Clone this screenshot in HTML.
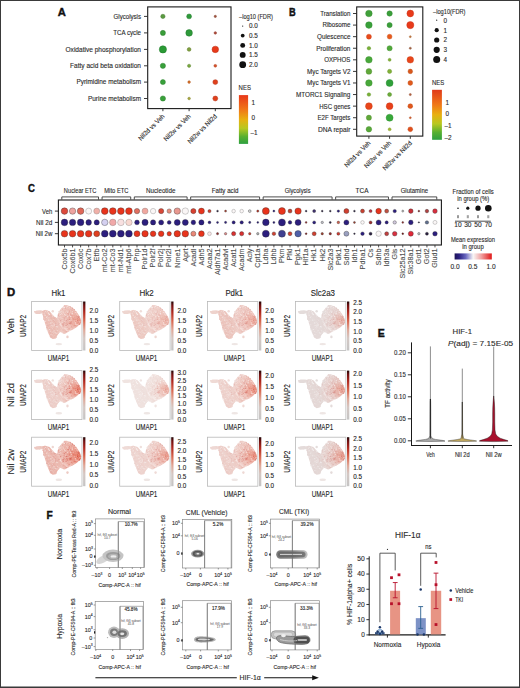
<!DOCTYPE html>
<html><head><meta charset="utf-8"><style>
html,body{margin:0;padding:0;background:#fff;}
body{width:520px;height:688px;overflow:hidden;}
svg{display:block;font-family:"Liberation Sans", sans-serif;}
text{stroke-width:0.12px;}
text[font-weight=bold]{stroke:#111;stroke-width:0.4px;}
</style></head><body>
<svg width="520" height="688" viewBox="0 0 520 688">
<rect x="0.50" y="0.50" width="519.00" height="687.00" fill="none" stroke="#3a3a3a" stroke-width="1"/>
<line x1="0.00" y1="687.20" x2="520.00" y2="687.20" stroke="#3a3a3a" stroke-width="1.2"/>
<text x="57.70" y="15.90" font-size="10.6" text-anchor="start" fill="#111" font-weight="bold" textLength="8.1" lengthAdjust="spacingAndGlyphs">A</text>
<text x="141.00" y="18.78" font-size="6.6" text-anchor="end" fill="#2b2b2b" font-weight="normal" stroke="#2b2b2b" textLength="27.4" lengthAdjust="spacingAndGlyphs">Glycolysis</text>
<line x1="144.00" y1="16.40" x2="147.50" y2="16.40" stroke="#222" stroke-width="0.9"/>
<text x="141.00" y="35.28" font-size="6.6" text-anchor="end" fill="#2b2b2b" font-weight="normal" stroke="#2b2b2b" textLength="27.8" lengthAdjust="spacingAndGlyphs">TCA cycle</text>
<line x1="144.00" y1="32.90" x2="147.50" y2="32.90" stroke="#222" stroke-width="0.9"/>
<text x="141.00" y="51.78" font-size="6.6" text-anchor="end" fill="#2b2b2b" font-weight="normal" stroke="#2b2b2b" textLength="75.5" lengthAdjust="spacingAndGlyphs">Oxidative phosphorylation</text>
<line x1="144.00" y1="49.40" x2="147.50" y2="49.40" stroke="#222" stroke-width="0.9"/>
<text x="141.00" y="68.18" font-size="6.6" text-anchor="end" fill="#2b2b2b" font-weight="normal" stroke="#2b2b2b" textLength="71.0" lengthAdjust="spacingAndGlyphs">Fatty acid beta oxidation</text>
<line x1="144.00" y1="65.80" x2="147.50" y2="65.80" stroke="#222" stroke-width="0.9"/>
<text x="141.00" y="84.48" font-size="6.6" text-anchor="end" fill="#2b2b2b" font-weight="normal" stroke="#2b2b2b" textLength="64.6" lengthAdjust="spacingAndGlyphs">Pyrimidine metabolism</text>
<line x1="144.00" y1="82.10" x2="147.50" y2="82.10" stroke="#222" stroke-width="0.9"/>
<text x="141.00" y="100.88" font-size="6.6" text-anchor="end" fill="#2b2b2b" font-weight="normal" stroke="#2b2b2b" textLength="53.0" lengthAdjust="spacingAndGlyphs">Purine metabolism</text>
<line x1="144.00" y1="98.50" x2="147.50" y2="98.50" stroke="#222" stroke-width="0.9"/>
<rect x="147.70" y="6.90" width="83.30" height="101.70" fill="none" stroke="#1a1a1a" stroke-width="1.1"/>
<circle cx="162.90" cy="16.40" r="2.15" fill="#5a9a40" stroke="#487b33" stroke-width="0.5"/>
<circle cx="189.10" cy="16.40" r="2.45" fill="#2e9a3a" stroke="#247b2e" stroke-width="0.5"/>
<circle cx="215.30" cy="16.40" r="1.15" fill="#a0503a" stroke="#80402e" stroke-width="0.5"/>
<circle cx="162.90" cy="32.90" r="2.55" fill="#3a9e3a" stroke="#2e7e2e" stroke-width="0.5"/>
<circle cx="189.10" cy="32.90" r="3.30" fill="#2e9a3a" stroke="#247b2e" stroke-width="0.5"/>
<circle cx="215.30" cy="32.90" r="1.25" fill="#b04a3a" stroke="#8c3b2e" stroke-width="0.5"/>
<circle cx="162.90" cy="49.40" r="3.60" fill="#2a9a35" stroke="#217b2a" stroke-width="0.5"/>
<circle cx="189.10" cy="49.40" r="1.85" fill="#80a040" stroke="#668033" stroke-width="0.5"/>
<circle cx="215.30" cy="49.40" r="3.25" fill="#e83a1a" stroke="#b92e14" stroke-width="0.5"/>
<circle cx="162.90" cy="65.80" r="2.60" fill="#38a03a" stroke="#2c802e" stroke-width="0.5"/>
<circle cx="189.10" cy="65.80" r="1.60" fill="#78a840" stroke="#608633" stroke-width="0.5"/>
<circle cx="215.30" cy="65.80" r="1.40" fill="#d85028" stroke="#ac4020" stroke-width="0.5"/>
<circle cx="162.90" cy="82.10" r="2.50" fill="#38a03a" stroke="#2c802e" stroke-width="0.5"/>
<circle cx="189.10" cy="82.10" r="1.30" fill="#d87028" stroke="#ac5920" stroke-width="0.5"/>
<circle cx="215.30" cy="82.10" r="2.45" fill="#e0401c" stroke="#b33316" stroke-width="0.5"/>
<circle cx="162.90" cy="98.50" r="2.60" fill="#38a03a" stroke="#2c802e" stroke-width="0.5"/>
<circle cx="189.10" cy="98.50" r="1.30" fill="#a8a840" stroke="#868633" stroke-width="0.5"/>
<circle cx="215.30" cy="98.50" r="2.45" fill="#e0401c" stroke="#b33316" stroke-width="0.5"/>
<line x1="162.90" y1="108.60" x2="162.90" y2="111.20" stroke="#222" stroke-width="0.9"/>
<line x1="189.10" y1="108.60" x2="189.10" y2="111.20" stroke="#222" stroke-width="0.9"/>
<line x1="215.30" y1="108.60" x2="215.30" y2="111.20" stroke="#222" stroke-width="0.9"/>
<text x="165.00" y="116.8" font-size="6.6" text-anchor="end" fill="#2b2b2b" textLength="34.1" lengthAdjust="spacingAndGlyphs" transform="rotate(-45 165.00 116.8)" stroke="#2b2b2b">Nil2d vs Veh</text>
<text x="191.20" y="116.8" font-size="6.6" text-anchor="end" fill="#2b2b2b" textLength="35.1" lengthAdjust="spacingAndGlyphs" transform="rotate(-45 191.20 116.8)" stroke="#2b2b2b">Nil2w vs Veh</text>
<text x="217.40" y="116.8" font-size="6.6" text-anchor="end" fill="#2b2b2b" textLength="38.5" lengthAdjust="spacingAndGlyphs" transform="rotate(-45 217.40 116.8)" stroke="#2b2b2b">Nil2w vs Nil2d</text>
<text x="239.00" y="18.80" font-size="6.4" text-anchor="start" fill="#2b2b2b" font-weight="normal" stroke="#2b2b2b" textLength="33.9" lengthAdjust="spacingAndGlyphs">–log10 (FDR)</text>
<circle cx="242.70" cy="26.10" r="0.60" fill="#111"/>
<text x="249.00" y="28.40" font-size="6.4" text-anchor="start" fill="#2b2b2b" font-weight="normal" stroke="#2b2b2b">0.0</text>
<circle cx="242.70" cy="35.60" r="1.90" fill="#111"/>
<text x="249.00" y="37.90" font-size="6.4" text-anchor="start" fill="#2b2b2b" font-weight="normal" stroke="#2b2b2b">0.5</text>
<circle cx="242.70" cy="45.40" r="2.45" fill="#111"/>
<text x="249.00" y="47.70" font-size="6.4" text-anchor="start" fill="#2b2b2b" font-weight="normal" stroke="#2b2b2b">1.0</text>
<circle cx="242.70" cy="54.90" r="2.95" fill="#111"/>
<text x="249.00" y="57.20" font-size="6.4" text-anchor="start" fill="#2b2b2b" font-weight="normal" stroke="#2b2b2b">1.5</text>
<circle cx="242.70" cy="64.70" r="3.40" fill="#111"/>
<text x="249.00" y="67.00" font-size="6.4" text-anchor="start" fill="#2b2b2b" font-weight="normal" stroke="#2b2b2b">2.0</text>
<text x="238.60" y="89.90" font-size="6.4" text-anchor="start" fill="#2b2b2b" font-weight="normal" stroke="#2b2b2b" textLength="12.3" lengthAdjust="spacingAndGlyphs">NES</text>
<defs><linearGradient id="nesA" x1="0" y1="0" x2="0" y2="1">
<stop offset="0" stop-color="#e8381a"/><stop offset="0.3" stop-color="#f07818"/>
<stop offset="0.5" stop-color="#e8b010"/><stop offset="0.68" stop-color="#b8c820"/>
<stop offset="0.85" stop-color="#58b030"/><stop offset="1" stop-color="#2ea040"/></linearGradient>
<linearGradient id="nesB" x1="0" y1="0" x2="0" y2="1">
<stop offset="0" stop-color="#e03a1a"/><stop offset="0.3" stop-color="#f07818"/>
<stop offset="0.5" stop-color="#e8b010"/><stop offset="0.68" stop-color="#b8c820"/>
<stop offset="0.85" stop-color="#58b030"/><stop offset="1" stop-color="#2ea040"/></linearGradient></defs>
<rect x="238.90" y="95.10" width="9.20" height="48.80" fill="url(#nesA)"/>
<text x="251.40" y="104.70" font-size="6.4" text-anchor="start" fill="#2b2b2b" font-weight="normal" stroke="#2b2b2b">1</text>
<text x="251.40" y="119.90" font-size="6.4" text-anchor="start" fill="#2b2b2b" font-weight="normal" stroke="#2b2b2b">0</text>
<text x="250.40" y="135.00" font-size="6.4" text-anchor="start" fill="#2b2b2b" font-weight="normal" stroke="#2b2b2b">–1</text>
<text x="288.90" y="16.30" font-size="10.2" text-anchor="start" fill="#111" font-weight="bold" textLength="6.7" lengthAdjust="spacingAndGlyphs">B</text>
<text x="350.40" y="15.88" font-size="6.6" text-anchor="end" fill="#2b2b2b" font-weight="normal" stroke="#2b2b2b" textLength="30.2" lengthAdjust="spacingAndGlyphs">Translation</text>
<line x1="353.00" y1="13.50" x2="356.60" y2="13.50" stroke="#222" stroke-width="0.9"/>
<text x="350.40" y="27.46" font-size="6.6" text-anchor="end" fill="#2b2b2b" font-weight="normal" stroke="#2b2b2b" textLength="28.0" lengthAdjust="spacingAndGlyphs">Ribosome</text>
<line x1="353.00" y1="25.08" x2="356.60" y2="25.08" stroke="#222" stroke-width="0.9"/>
<text x="350.40" y="39.04" font-size="6.6" text-anchor="end" fill="#2b2b2b" font-weight="normal" stroke="#2b2b2b" textLength="33.4" lengthAdjust="spacingAndGlyphs">Quiescence</text>
<line x1="353.00" y1="36.66" x2="356.60" y2="36.66" stroke="#222" stroke-width="0.9"/>
<text x="350.40" y="50.62" font-size="6.6" text-anchor="end" fill="#2b2b2b" font-weight="normal" stroke="#2b2b2b" textLength="34.25" lengthAdjust="spacingAndGlyphs">Proliferation</text>
<line x1="353.00" y1="48.24" x2="356.60" y2="48.24" stroke="#222" stroke-width="0.9"/>
<text x="350.40" y="62.20" font-size="6.6" text-anchor="end" fill="#2b2b2b" font-weight="normal" stroke="#2b2b2b" textLength="26.25" lengthAdjust="spacingAndGlyphs">OXPHOS</text>
<line x1="353.00" y1="59.82" x2="356.60" y2="59.82" stroke="#222" stroke-width="0.9"/>
<text x="350.40" y="73.78" font-size="6.6" text-anchor="end" fill="#2b2b2b" font-weight="normal" stroke="#2b2b2b" textLength="43.4" lengthAdjust="spacingAndGlyphs">Myc Targets V2</text>
<line x1="353.00" y1="71.40" x2="356.60" y2="71.40" stroke="#222" stroke-width="0.9"/>
<text x="350.40" y="85.36" font-size="6.6" text-anchor="end" fill="#2b2b2b" font-weight="normal" stroke="#2b2b2b" textLength="43.4" lengthAdjust="spacingAndGlyphs">Myc Targets V1</text>
<line x1="353.00" y1="82.98" x2="356.60" y2="82.98" stroke="#222" stroke-width="0.9"/>
<text x="350.40" y="96.94" font-size="6.6" text-anchor="end" fill="#2b2b2b" font-weight="normal" stroke="#2b2b2b" textLength="54.4" lengthAdjust="spacingAndGlyphs">MTORC1 Signaling</text>
<line x1="353.00" y1="94.56" x2="356.60" y2="94.56" stroke="#222" stroke-width="0.9"/>
<text x="350.40" y="108.52" font-size="6.6" text-anchor="end" fill="#2b2b2b" font-weight="normal" stroke="#2b2b2b" textLength="31.25" lengthAdjust="spacingAndGlyphs">HSC genes</text>
<line x1="353.00" y1="106.14" x2="356.60" y2="106.14" stroke="#222" stroke-width="0.9"/>
<text x="350.40" y="120.10" font-size="6.6" text-anchor="end" fill="#2b2b2b" font-weight="normal" stroke="#2b2b2b" textLength="33.0" lengthAdjust="spacingAndGlyphs">E2F Targets</text>
<line x1="353.00" y1="117.72" x2="356.60" y2="117.72" stroke="#222" stroke-width="0.9"/>
<text x="350.40" y="131.68" font-size="6.6" text-anchor="end" fill="#2b2b2b" font-weight="normal" stroke="#2b2b2b" textLength="32.5" lengthAdjust="spacingAndGlyphs">DNA repair</text>
<line x1="353.00" y1="129.30" x2="356.60" y2="129.30" stroke="#222" stroke-width="0.9"/>
<rect x="356.70" y="6.90" width="66.10" height="129.20" fill="none" stroke="#1a1a1a" stroke-width="1.1"/>
<circle cx="368.90" cy="13.50" r="3.30" fill="#40a03a" stroke="#368831" stroke-width="0.4"/>
<circle cx="389.60" cy="13.50" r="2.70" fill="#3a9e3a" stroke="#318631" stroke-width="0.4"/>
<circle cx="410.30" cy="13.50" r="3.40" fill="#e83a1a" stroke="#c53116" stroke-width="0.4"/>
<circle cx="368.90" cy="25.08" r="3.30" fill="#38a03a" stroke="#2f8831" stroke-width="0.4"/>
<circle cx="389.60" cy="25.08" r="2.60" fill="#3a9e3a" stroke="#318631" stroke-width="0.4"/>
<circle cx="410.30" cy="25.08" r="3.60" fill="#e83a1a" stroke="#c53116" stroke-width="0.4"/>
<circle cx="368.90" cy="36.66" r="2.50" fill="#e84a1a" stroke="#c53e16" stroke-width="0.4"/>
<circle cx="389.60" cy="36.66" r="2.40" fill="#e85a1a" stroke="#c54c16" stroke-width="0.4"/>
<circle cx="410.30" cy="36.66" r="1.00" fill="#c07840" stroke="#a36636" stroke-width="0.4"/>
<circle cx="368.90" cy="48.24" r="1.80" fill="#78b038" stroke="#66952f" stroke-width="0.4"/>
<circle cx="389.60" cy="48.24" r="2.60" fill="#50a83a" stroke="#448e31" stroke-width="0.4"/>
<circle cx="410.30" cy="48.24" r="1.10" fill="#a06040" stroke="#885136" stroke-width="0.4"/>
<circle cx="368.90" cy="59.82" r="3.30" fill="#48a83a" stroke="#3d8e31" stroke-width="0.4"/>
<circle cx="389.60" cy="59.82" r="1.50" fill="#80b038" stroke="#6c952f" stroke-width="0.4"/>
<circle cx="410.30" cy="59.82" r="3.30" fill="#e8461a" stroke="#c53b16" stroke-width="0.4"/>
<circle cx="368.90" cy="71.40" r="2.90" fill="#60a83a" stroke="#518e31" stroke-width="0.4"/>
<circle cx="389.60" cy="71.40" r="2.10" fill="#80b038" stroke="#6c952f" stroke-width="0.4"/>
<circle cx="410.30" cy="71.40" r="2.30" fill="#d8581c" stroke="#b74a17" stroke-width="0.4"/>
<circle cx="368.90" cy="82.98" r="3.30" fill="#48a83a" stroke="#3d8e31" stroke-width="0.4"/>
<circle cx="389.60" cy="82.98" r="3.50" fill="#30a03a" stroke="#288831" stroke-width="0.4"/>
<circle cx="410.30" cy="82.98" r="2.40" fill="#e05a1c" stroke="#be4c17" stroke-width="0.4"/>
<circle cx="368.90" cy="94.56" r="1.80" fill="#78b038" stroke="#66952f" stroke-width="0.4"/>
<circle cx="389.60" cy="94.56" r="2.00" fill="#6aaa3a" stroke="#5a9031" stroke-width="0.4"/>
<circle cx="410.30" cy="94.56" r="1.10" fill="#b06040" stroke="#955136" stroke-width="0.4"/>
<circle cx="368.90" cy="106.14" r="3.40" fill="#e8461a" stroke="#c53b16" stroke-width="0.4"/>
<circle cx="389.60" cy="106.14" r="3.40" fill="#e8401a" stroke="#c53616" stroke-width="0.4"/>
<circle cx="410.30" cy="106.14" r="2.40" fill="#e0581c" stroke="#be4a17" stroke-width="0.4"/>
<circle cx="368.90" cy="117.72" r="2.60" fill="#60a83a" stroke="#518e31" stroke-width="0.4"/>
<circle cx="389.60" cy="117.72" r="3.50" fill="#38a83a" stroke="#2f8e31" stroke-width="0.4"/>
<circle cx="410.30" cy="117.72" r="1.00" fill="#d06030" stroke="#b05128" stroke-width="0.4"/>
<circle cx="368.90" cy="129.30" r="2.80" fill="#58a83a" stroke="#4a8e31" stroke-width="0.4"/>
<circle cx="389.60" cy="129.30" r="1.50" fill="#a0b838" stroke="#889c2f" stroke-width="0.4"/>
<circle cx="410.30" cy="129.30" r="2.40" fill="#e0501c" stroke="#be4417" stroke-width="0.4"/>
<line x1="368.90" y1="136.20" x2="368.90" y2="138.80" stroke="#222" stroke-width="0.9"/>
<line x1="389.60" y1="136.20" x2="389.60" y2="138.80" stroke="#222" stroke-width="0.9"/>
<line x1="410.30" y1="136.20" x2="410.30" y2="138.80" stroke="#222" stroke-width="0.9"/>
<text x="371.00" y="143.6" font-size="6.6" text-anchor="end" fill="#2b2b2b" textLength="34.1" lengthAdjust="spacingAndGlyphs" transform="rotate(-45 371.00 143.6)" stroke="#2b2b2b">Nil2d vs Veh</text>
<text x="391.70" y="143.6" font-size="6.6" text-anchor="end" fill="#2b2b2b" textLength="35.1" lengthAdjust="spacingAndGlyphs" transform="rotate(-45 391.70 143.6)" stroke="#2b2b2b">Nil2w vs Veh</text>
<text x="412.40" y="143.6" font-size="6.6" text-anchor="end" fill="#2b2b2b" textLength="38.5" lengthAdjust="spacingAndGlyphs" transform="rotate(-45 412.40 143.6)" stroke="#2b2b2b">Nil2w vs Nil2d</text>
<text x="433.00" y="13.80" font-size="6.4" text-anchor="start" fill="#2b2b2b" font-weight="normal" stroke="#2b2b2b" textLength="32.5" lengthAdjust="spacingAndGlyphs">–log10(FDR)</text>
<circle cx="436.70" cy="20.20" r="0.60" fill="#111"/>
<text x="443.50" y="22.50" font-size="6.4" text-anchor="start" fill="#2b2b2b" font-weight="normal" stroke="#2b2b2b">0</text>
<circle cx="436.70" cy="30.20" r="2.10" fill="#111"/>
<text x="443.50" y="32.50" font-size="6.4" text-anchor="start" fill="#2b2b2b" font-weight="normal" stroke="#2b2b2b">1</text>
<circle cx="436.70" cy="40.00" r="2.60" fill="#111"/>
<text x="443.50" y="42.30" font-size="6.4" text-anchor="start" fill="#2b2b2b" font-weight="normal" stroke="#2b2b2b">2</text>
<circle cx="436.70" cy="49.80" r="3.10" fill="#111"/>
<text x="443.50" y="52.10" font-size="6.4" text-anchor="start" fill="#2b2b2b" font-weight="normal" stroke="#2b2b2b">3</text>
<circle cx="436.70" cy="59.60" r="3.50" fill="#111"/>
<text x="443.50" y="61.90" font-size="6.4" text-anchor="start" fill="#2b2b2b" font-weight="normal" stroke="#2b2b2b">4</text>
<text x="432.00" y="85.30" font-size="6.4" text-anchor="start" fill="#2b2b2b" font-weight="normal" stroke="#2b2b2b" textLength="12.3" lengthAdjust="spacingAndGlyphs">NES</text>
<rect x="432.10" y="89.80" width="9.80" height="50.00" fill="url(#nesB)"/>
<text x="445.40" y="104.60" font-size="6.4" text-anchor="start" fill="#2b2b2b" font-weight="normal" stroke="#2b2b2b">1</text>
<text x="445.40" y="115.80" font-size="6.4" text-anchor="start" fill="#2b2b2b" font-weight="normal" stroke="#2b2b2b">0</text>
<text x="444.40" y="127.90" font-size="6.4" text-anchor="start" fill="#2b2b2b" font-weight="normal" stroke="#2b2b2b">–1</text>
<text x="444.40" y="139.90" font-size="6.4" text-anchor="start" fill="#2b2b2b" font-weight="normal" stroke="#2b2b2b">–2</text>
<text x="28.00" y="192.30" font-size="10.2" text-anchor="start" fill="#111" font-weight="bold" textLength="6.9" lengthAdjust="spacingAndGlyphs">C</text>
<text x="52.30" y="213.88" font-size="6.6" text-anchor="end" fill="#2b2b2b" font-weight="normal" stroke="#2b2b2b" textLength="10.2" lengthAdjust="spacingAndGlyphs">Veh</text>
<line x1="54.90" y1="211.10" x2="58.20" y2="211.10" stroke="#222" stroke-width="0.9"/>
<text x="52.30" y="225.18" font-size="6.6" text-anchor="end" fill="#2b2b2b" font-weight="normal" stroke="#2b2b2b" textLength="16.2" lengthAdjust="spacingAndGlyphs">Nil 2d</text>
<line x1="54.90" y1="222.40" x2="58.20" y2="222.40" stroke="#222" stroke-width="0.9"/>
<text x="52.30" y="236.48" font-size="6.6" text-anchor="end" fill="#2b2b2b" font-weight="normal" stroke="#2b2b2b" textLength="16.5" lengthAdjust="spacingAndGlyphs">Nil 2w</text>
<line x1="54.90" y1="233.70" x2="58.20" y2="233.70" stroke="#222" stroke-width="0.9"/>
<rect x="58.40" y="200.00" width="383.00" height="45.00" fill="none" stroke="#1a1a1a" stroke-width="1.1"/>
<circle cx="64.50" cy="211.10" r="3.30" fill="#dc4a3c" stroke="#2a2a2a" stroke-width="0.35"/>
<circle cx="64.50" cy="222.40" r="3.30" fill="#2c1e7e" stroke="#2a2a2a" stroke-width="0.35"/>
<circle cx="64.50" cy="233.70" r="3.30" fill="#e8341c" stroke="#2a2a2a" stroke-width="0.35"/>
<line x1="64.50" y1="245.10" x2="64.50" y2="247.40" stroke="#222" stroke-width="0.8"/>
<text x="66.80" y="248.6" font-size="7.2" text-anchor="end" fill="#505050" transform="rotate(-90 66.80 248.6)" stroke="#505050">Cox5b</text>
<circle cx="72.55" cy="211.10" r="3.20" fill="#eea4a0" stroke="#2a2a2a" stroke-width="0.35"/>
<circle cx="72.55" cy="222.40" r="3.20" fill="#2c1e7e" stroke="#2a2a2a" stroke-width="0.35"/>
<circle cx="72.55" cy="233.70" r="3.30" fill="#e8341c" stroke="#2a2a2a" stroke-width="0.35"/>
<line x1="72.55" y1="245.10" x2="72.55" y2="247.40" stroke="#222" stroke-width="0.8"/>
<text x="74.85" y="248.6" font-size="7.2" text-anchor="end" fill="#505050" transform="rotate(-90 74.85 248.6)" stroke="#505050">Cox6b1</text>
<circle cx="80.61" cy="211.10" r="3.30" fill="#e06858" stroke="#2a2a2a" stroke-width="0.35"/>
<circle cx="80.61" cy="222.40" r="3.30" fill="#2c1e7e" stroke="#2a2a2a" stroke-width="0.35"/>
<circle cx="80.61" cy="233.70" r="3.30" fill="#e8341c" stroke="#2a2a2a" stroke-width="0.35"/>
<line x1="80.61" y1="245.10" x2="80.61" y2="247.40" stroke="#222" stroke-width="0.8"/>
<text x="82.91" y="248.6" font-size="7.2" text-anchor="end" fill="#505050" transform="rotate(-90 82.91 248.6)" stroke="#505050">Cox6c</text>
<circle cx="88.66" cy="211.10" r="3.00" fill="#faf6f6" stroke="#777" stroke-width="0.35"/>
<circle cx="88.66" cy="222.40" r="2.80" fill="#2c1e7e" stroke="#2a2a2a" stroke-width="0.35"/>
<circle cx="88.66" cy="233.70" r="3.30" fill="#e8341c" stroke="#2a2a2a" stroke-width="0.35"/>
<line x1="88.66" y1="245.10" x2="88.66" y2="247.40" stroke="#222" stroke-width="0.8"/>
<text x="90.96" y="248.6" font-size="7.2" text-anchor="end" fill="#505050" transform="rotate(-90 90.96 248.6)" stroke="#505050">Cox7b</text>
<circle cx="96.72" cy="211.10" r="3.00" fill="#f0b0a8" stroke="#777" stroke-width="0.35"/>
<circle cx="96.72" cy="222.40" r="2.60" fill="#2c1e7e" stroke="#2a2a2a" stroke-width="0.35"/>
<circle cx="96.72" cy="233.70" r="3.00" fill="#e04020" stroke="#2a2a2a" stroke-width="0.35"/>
<line x1="96.72" y1="245.10" x2="96.72" y2="247.40" stroke="#222" stroke-width="0.8"/>
<text x="99.02" y="248.6" font-size="7.2" text-anchor="end" fill="#505050" transform="rotate(-90 99.02 248.6)" stroke="#505050">Etfb</text>
<circle cx="104.77" cy="211.10" r="3.40" fill="#e8341c" stroke="#2a2a2a" stroke-width="0.35"/>
<circle cx="104.77" cy="222.40" r="3.20" fill="#d4d0f0" stroke="#2a2a2a" stroke-width="0.35"/>
<circle cx="104.77" cy="233.70" r="3.40" fill="#2c1e7e" stroke="#2a2a2a" stroke-width="0.35"/>
<line x1="104.77" y1="245.10" x2="104.77" y2="247.40" stroke="#222" stroke-width="0.8"/>
<text x="107.07" y="248.6" font-size="7.2" text-anchor="end" fill="#505050" transform="rotate(-90 107.07 248.6)" stroke="#505050">mt-Co2</text>
<circle cx="112.82" cy="211.10" r="3.40" fill="#e8341c" stroke="#2a2a2a" stroke-width="0.35"/>
<circle cx="112.82" cy="222.40" r="3.30" fill="#f0a8a8" stroke="#777" stroke-width="0.35"/>
<circle cx="112.82" cy="233.70" r="3.40" fill="#2c1e7e" stroke="#2a2a2a" stroke-width="0.35"/>
<line x1="112.82" y1="245.10" x2="112.82" y2="247.40" stroke="#222" stroke-width="0.8"/>
<text x="115.12" y="248.6" font-size="7.2" text-anchor="end" fill="#505050" transform="rotate(-90 115.12 248.6)" stroke="#505050">mt-Co3</text>
<circle cx="120.88" cy="211.10" r="3.40" fill="#e8341c" stroke="#2a2a2a" stroke-width="0.35"/>
<circle cx="120.88" cy="222.40" r="3.30" fill="#f8e0e0" stroke="#777" stroke-width="0.35"/>
<circle cx="120.88" cy="233.70" r="3.40" fill="#2c1e7e" stroke="#2a2a2a" stroke-width="0.35"/>
<line x1="120.88" y1="245.10" x2="120.88" y2="247.40" stroke="#222" stroke-width="0.8"/>
<text x="123.18" y="248.6" font-size="7.2" text-anchor="end" fill="#505050" transform="rotate(-90 123.18 248.6)" stroke="#505050">mt-Nd1</text>
<circle cx="128.93" cy="211.10" r="3.40" fill="#e8341c" stroke="#2a2a2a" stroke-width="0.35"/>
<circle cx="128.93" cy="222.40" r="3.20" fill="#f8d8d0" stroke="#777" stroke-width="0.35"/>
<circle cx="128.93" cy="233.70" r="3.40" fill="#2c1e7e" stroke="#2a2a2a" stroke-width="0.35"/>
<line x1="128.93" y1="245.10" x2="128.93" y2="247.40" stroke="#222" stroke-width="0.8"/>
<text x="131.23" y="248.6" font-size="7.2" text-anchor="end" fill="#505050" transform="rotate(-90 131.23 248.6)" stroke="#505050">mt-Atp6</text>
<circle cx="136.99" cy="211.10" r="2.70" fill="#e07060" stroke="#2a2a2a" stroke-width="0.35"/>
<circle cx="136.99" cy="222.40" r="2.40" fill="#2c1e7e" stroke="#2a2a2a" stroke-width="0.35"/>
<circle cx="136.99" cy="233.70" r="3.00" fill="#e8341c" stroke="#2a2a2a" stroke-width="0.35"/>
<line x1="136.99" y1="245.10" x2="136.99" y2="247.40" stroke="#222" stroke-width="0.8"/>
<text x="139.29" y="248.6" font-size="7.2" text-anchor="end" fill="#505050" transform="rotate(-90 139.29 248.6)" stroke="#505050">Pnp</text>
<circle cx="145.04" cy="211.10" r="3.00" fill="#f0a8a0" stroke="#777" stroke-width="0.35"/>
<circle cx="145.04" cy="222.40" r="3.10" fill="#2c1e7e" stroke="#2a2a2a" stroke-width="0.35"/>
<circle cx="145.04" cy="233.70" r="3.20" fill="#e8341c" stroke="#2a2a2a" stroke-width="0.35"/>
<line x1="145.04" y1="245.10" x2="145.04" y2="247.40" stroke="#222" stroke-width="0.8"/>
<text x="147.34" y="248.6" font-size="7.2" text-anchor="end" fill="#505050" transform="rotate(-90 147.34 248.6)" stroke="#505050">Polr1d</text>
<circle cx="153.09" cy="211.10" r="2.70" fill="#faf6f6" stroke="#777" stroke-width="0.35"/>
<circle cx="153.09" cy="222.40" r="2.60" fill="#2c1e7e" stroke="#2a2a2a" stroke-width="0.35"/>
<circle cx="153.09" cy="233.70" r="2.80" fill="#e8341c" stroke="#2a2a2a" stroke-width="0.35"/>
<line x1="153.09" y1="245.10" x2="153.09" y2="247.40" stroke="#222" stroke-width="0.8"/>
<text x="155.39" y="248.6" font-size="7.2" text-anchor="end" fill="#505050" transform="rotate(-90 155.39 248.6)" stroke="#505050">Polr2f</text>
<circle cx="161.15" cy="211.10" r="2.60" fill="#d84838" stroke="#2a2a2a" stroke-width="0.35"/>
<circle cx="161.15" cy="222.40" r="2.50" fill="#2c1e7e" stroke="#2a2a2a" stroke-width="0.35"/>
<circle cx="161.15" cy="233.70" r="2.80" fill="#e8341c" stroke="#2a2a2a" stroke-width="0.35"/>
<line x1="161.15" y1="245.10" x2="161.15" y2="247.40" stroke="#222" stroke-width="0.8"/>
<text x="163.45" y="248.6" font-size="7.2" text-anchor="end" fill="#505050" transform="rotate(-90 163.45 248.6)" stroke="#505050">Polr2j</text>
<circle cx="169.20" cy="211.10" r="2.20" fill="#e89080" stroke="#2a2a2a" stroke-width="0.35"/>
<circle cx="169.20" cy="222.40" r="1.90" fill="#2c1e7e" stroke="#2a2a2a" stroke-width="0.35"/>
<circle cx="169.20" cy="233.70" r="2.20" fill="#e8341c" stroke="#2a2a2a" stroke-width="0.35"/>
<line x1="169.20" y1="245.10" x2="169.20" y2="247.40" stroke="#222" stroke-width="0.8"/>
<text x="171.50" y="248.6" font-size="7.2" text-anchor="end" fill="#505050" transform="rotate(-90 171.50 248.6)" stroke="#505050">Polr2l</text>
<circle cx="177.26" cy="211.10" r="3.20" fill="#e89890" stroke="#2a2a2a" stroke-width="0.35"/>
<circle cx="177.26" cy="222.40" r="3.00" fill="#2c1e7e" stroke="#2a2a2a" stroke-width="0.35"/>
<circle cx="177.26" cy="233.70" r="3.20" fill="#e8341c" stroke="#2a2a2a" stroke-width="0.35"/>
<line x1="177.26" y1="245.10" x2="177.26" y2="247.40" stroke="#222" stroke-width="0.8"/>
<text x="179.56" y="248.6" font-size="7.2" text-anchor="end" fill="#505050" transform="rotate(-90 179.56 248.6)" stroke="#505050">Nme1</text>
<circle cx="185.31" cy="211.10" r="3.20" fill="#faf6f6" stroke="#777" stroke-width="0.35"/>
<circle cx="185.31" cy="222.40" r="3.00" fill="#2c1e7e" stroke="#2a2a2a" stroke-width="0.35"/>
<circle cx="185.31" cy="233.70" r="3.30" fill="#e8341c" stroke="#2a2a2a" stroke-width="0.35"/>
<line x1="185.31" y1="245.10" x2="185.31" y2="247.40" stroke="#222" stroke-width="0.8"/>
<text x="187.61" y="248.6" font-size="7.2" text-anchor="end" fill="#505050" transform="rotate(-90 187.61 248.6)" stroke="#505050">Aprt</text>
<circle cx="193.36" cy="211.10" r="2.60" fill="#d84030" stroke="#2a2a2a" stroke-width="0.35"/>
<circle cx="193.36" cy="222.40" r="2.30" fill="#2c1e7e" stroke="#2a2a2a" stroke-width="0.35"/>
<circle cx="193.36" cy="233.70" r="2.50" fill="#e88878" stroke="#2a2a2a" stroke-width="0.35"/>
<line x1="193.36" y1="245.10" x2="193.36" y2="247.40" stroke="#222" stroke-width="0.8"/>
<text x="195.66" y="248.6" font-size="7.2" text-anchor="end" fill="#505050" transform="rotate(-90 195.66 248.6)" stroke="#505050">Acadl</text>
<circle cx="201.42" cy="211.10" r="3.00" fill="#e8341c" stroke="#2a2a2a" stroke-width="0.35"/>
<circle cx="201.42" cy="222.40" r="2.60" fill="#2c1e7e" stroke="#2a2a2a" stroke-width="0.35"/>
<circle cx="201.42" cy="233.70" r="2.90" fill="#e8341c" stroke="#2a2a2a" stroke-width="0.35"/>
<line x1="201.42" y1="245.10" x2="201.42" y2="247.40" stroke="#222" stroke-width="0.8"/>
<text x="203.72" y="248.6" font-size="7.2" text-anchor="end" fill="#505050" transform="rotate(-90 203.72 248.6)" stroke="#505050">Adh5</text>
<circle cx="209.47" cy="211.10" r="1.60" fill="#d04030" stroke="#2a2a2a" stroke-width="0.35"/>
<circle cx="209.47" cy="222.40" r="1.40" fill="#2c1e7e" stroke="#2a2a2a" stroke-width="0.35"/>
<circle cx="209.47" cy="233.70" r="1.90" fill="#f8e4e4" stroke="#777" stroke-width="0.35"/>
<line x1="209.47" y1="245.10" x2="209.47" y2="247.40" stroke="#222" stroke-width="0.8"/>
<text x="211.77" y="248.6" font-size="7.2" text-anchor="end" fill="#505050" transform="rotate(-90 211.77 248.6)" stroke="#505050">Acaa2</text>
<circle cx="217.53" cy="211.10" r="0.90" fill="#2a2040" stroke="#2a2a2a" stroke-width="0.35"/>
<circle cx="217.53" cy="222.40" r="1.00" fill="#2c1e7e" stroke="#2a2a2a" stroke-width="0.35"/>
<circle cx="217.53" cy="233.70" r="1.10" fill="#902828" stroke="#2a2a2a" stroke-width="0.35"/>
<line x1="217.53" y1="245.10" x2="217.53" y2="247.40" stroke="#222" stroke-width="0.8"/>
<text x="219.83" y="248.6" font-size="7.2" text-anchor="end" fill="#505050" transform="rotate(-90 219.83 248.6)" stroke="#505050">Aldh7a1</text>
<circle cx="225.58" cy="211.10" r="1.00" fill="#b04030" stroke="#2a2a2a" stroke-width="0.35"/>
<circle cx="225.58" cy="222.40" r="1.10" fill="#2c1e7e" stroke="#2a2a2a" stroke-width="0.35"/>
<circle cx="225.58" cy="233.70" r="1.20" fill="#e08888" stroke="#2a2a2a" stroke-width="0.35"/>
<line x1="225.58" y1="245.10" x2="225.58" y2="247.40" stroke="#222" stroke-width="0.8"/>
<text x="227.88" y="248.6" font-size="7.2" text-anchor="end" fill="#505050" transform="rotate(-90 227.88 248.6)" stroke="#505050">Acadvl</text>
<circle cx="233.63" cy="211.10" r="1.80" fill="#faf6f6" stroke="#777" stroke-width="0.35"/>
<circle cx="233.63" cy="222.40" r="1.60" fill="#2c1e7e" stroke="#2a2a2a" stroke-width="0.35"/>
<circle cx="233.63" cy="233.70" r="2.10" fill="#d83030" stroke="#2a2a2a" stroke-width="0.35"/>
<line x1="233.63" y1="245.10" x2="233.63" y2="247.40" stroke="#222" stroke-width="0.8"/>
<text x="235.93" y="248.6" font-size="7.2" text-anchor="end" fill="#505050" transform="rotate(-90 235.93 248.6)" stroke="#505050">Acat1</text>
<circle cx="241.69" cy="211.10" r="1.80" fill="#faf6f6" stroke="#777" stroke-width="0.35"/>
<circle cx="241.69" cy="222.40" r="1.70" fill="#2c1e7e" stroke="#2a2a2a" stroke-width="0.35"/>
<circle cx="241.69" cy="233.70" r="2.10" fill="#d83030" stroke="#2a2a2a" stroke-width="0.35"/>
<line x1="241.69" y1="245.10" x2="241.69" y2="247.40" stroke="#222" stroke-width="0.8"/>
<text x="243.99" y="248.6" font-size="7.2" text-anchor="end" fill="#505050" transform="rotate(-90 243.99 248.6)" stroke="#505050">Acadm</text>
<circle cx="249.74" cy="211.10" r="1.40" fill="#d0d0d0" stroke="#2a2a2a" stroke-width="0.35"/>
<circle cx="249.74" cy="222.40" r="1.10" fill="#2c1e7e" stroke="#2a2a2a" stroke-width="0.35"/>
<circle cx="249.74" cy="233.70" r="1.20" fill="#d04030" stroke="#2a2a2a" stroke-width="0.35"/>
<line x1="249.74" y1="245.10" x2="249.74" y2="247.40" stroke="#222" stroke-width="0.8"/>
<text x="252.04" y="248.6" font-size="7.2" text-anchor="end" fill="#505050" transform="rotate(-90 252.04 248.6)" stroke="#505050">Acly</text>
<circle cx="257.80" cy="211.10" r="1.10" fill="#c03020" stroke="#2a2a2a" stroke-width="0.35"/>
<circle cx="257.80" cy="222.40" r="0.90" fill="#2c1e7e" stroke="#2a2a2a" stroke-width="0.35"/>
<circle cx="257.80" cy="233.70" r="1.20" fill="#b0b0b0" stroke="#2a2a2a" stroke-width="0.35"/>
<line x1="257.80" y1="245.10" x2="257.80" y2="247.40" stroke="#222" stroke-width="0.8"/>
<text x="260.10" y="248.6" font-size="7.2" text-anchor="end" fill="#505050" transform="rotate(-90 260.10 248.6)" stroke="#505050">Cpt1a</text>
<circle cx="265.85" cy="211.10" r="3.50" fill="#e8341c" stroke="#2a2a2a" stroke-width="0.35"/>
<circle cx="265.85" cy="222.40" r="3.30" fill="#2c1e7e" stroke="#2a2a2a" stroke-width="0.35"/>
<circle cx="265.85" cy="233.70" r="3.50" fill="#2c1e7e" stroke="#2a2a2a" stroke-width="0.35"/>
<line x1="265.85" y1="245.10" x2="265.85" y2="247.40" stroke="#222" stroke-width="0.8"/>
<text x="268.15" y="248.6" font-size="7.2" text-anchor="end" fill="#505050" transform="rotate(-90 268.15 248.6)" stroke="#505050">Ldha</text>
<circle cx="273.90" cy="211.10" r="1.00" fill="#2c1e7e" stroke="#2a2a2a" stroke-width="0.35"/>
<circle cx="273.90" cy="222.40" r="1.00" fill="#2c1e7e" stroke="#2a2a2a" stroke-width="0.35"/>
<circle cx="273.90" cy="233.70" r="1.80" fill="#d04030" stroke="#2a2a2a" stroke-width="0.35"/>
<line x1="273.90" y1="245.10" x2="273.90" y2="247.40" stroke="#222" stroke-width="0.8"/>
<text x="276.20" y="248.6" font-size="7.2" text-anchor="end" fill="#505050" transform="rotate(-90 276.20 248.6)" stroke="#505050">Ldhb</text>
<circle cx="281.96" cy="211.10" r="3.50" fill="#e8341c" stroke="#2a2a2a" stroke-width="0.35"/>
<circle cx="281.96" cy="222.40" r="3.50" fill="#2c1e7e" stroke="#2a2a2a" stroke-width="0.35"/>
<circle cx="281.96" cy="233.70" r="3.50" fill="#404090" stroke="#2a2a2a" stroke-width="0.35"/>
<line x1="281.96" y1="245.10" x2="281.96" y2="247.40" stroke="#222" stroke-width="0.8"/>
<text x="284.26" y="248.6" font-size="7.2" text-anchor="end" fill="#505050" transform="rotate(-90 284.26 248.6)" stroke="#505050">Pkm</text>
<circle cx="290.01" cy="211.10" r="2.00" fill="#c04030" stroke="#2a2a2a" stroke-width="0.35"/>
<circle cx="290.01" cy="222.40" r="1.80" fill="#2c1e7e" stroke="#2a2a2a" stroke-width="0.35"/>
<circle cx="290.01" cy="233.70" r="2.00" fill="#d04030" stroke="#2a2a2a" stroke-width="0.35"/>
<line x1="290.01" y1="245.10" x2="290.01" y2="247.40" stroke="#222" stroke-width="0.8"/>
<text x="292.31" y="248.6" font-size="7.2" text-anchor="end" fill="#505050" transform="rotate(-90 292.31 248.6)" stroke="#505050">Pfkl</text>
<circle cx="298.07" cy="211.10" r="3.20" fill="#e8341c" stroke="#2a2a2a" stroke-width="0.35"/>
<circle cx="298.07" cy="222.40" r="3.00" fill="#2c1e7e" stroke="#2a2a2a" stroke-width="0.35"/>
<circle cx="298.07" cy="233.70" r="3.20" fill="#5060a8" stroke="#2a2a2a" stroke-width="0.35"/>
<line x1="298.07" y1="245.10" x2="298.07" y2="247.40" stroke="#222" stroke-width="0.8"/>
<text x="300.37" y="248.6" font-size="7.2" text-anchor="end" fill="#505050" transform="rotate(-90 300.37 248.6)" stroke="#505050">Pgk1</text>
<circle cx="306.12" cy="211.10" r="0.90" fill="#2a2040" stroke="#2a2a2a" stroke-width="0.35"/>
<circle cx="306.12" cy="222.40" r="0.90" fill="#a03030" stroke="#2a2a2a" stroke-width="0.35"/>
<circle cx="306.12" cy="233.70" r="0.90" fill="#902020" stroke="#2a2a2a" stroke-width="0.35"/>
<line x1="306.12" y1="245.10" x2="306.12" y2="247.40" stroke="#222" stroke-width="0.8"/>
<text x="308.42" y="248.6" font-size="7.2" text-anchor="end" fill="#505050" transform="rotate(-90 308.42 248.6)" stroke="#505050">Hif1a</text>
<circle cx="314.17" cy="211.10" r="1.50" fill="#403070" stroke="#2a2a2a" stroke-width="0.35"/>
<circle cx="314.17" cy="222.40" r="1.50" fill="#2c1e7e" stroke="#2a2a2a" stroke-width="0.35"/>
<circle cx="314.17" cy="233.70" r="2.00" fill="#d04030" stroke="#2a2a2a" stroke-width="0.35"/>
<line x1="314.17" y1="245.10" x2="314.17" y2="247.40" stroke="#222" stroke-width="0.8"/>
<text x="316.47" y="248.6" font-size="7.2" text-anchor="end" fill="#505050" transform="rotate(-90 316.47 248.6)" stroke="#505050">Hk1</text>
<circle cx="322.23" cy="211.10" r="0.90" fill="#2a2040" stroke="#2a2a2a" stroke-width="0.35"/>
<circle cx="322.23" cy="222.40" r="1.20" fill="#c0c0c8" stroke="#2a2a2a" stroke-width="0.35"/>
<circle cx="322.23" cy="233.70" r="1.20" fill="#a04030" stroke="#2a2a2a" stroke-width="0.35"/>
<line x1="322.23" y1="245.10" x2="322.23" y2="247.40" stroke="#222" stroke-width="0.8"/>
<text x="324.53" y="248.6" font-size="7.2" text-anchor="end" fill="#505050" transform="rotate(-90 324.53 248.6)" stroke="#505050">Hk2</text>
<circle cx="330.28" cy="211.10" r="0.90" fill="#2a2040" stroke="#2a2a2a" stroke-width="0.35"/>
<circle cx="330.28" cy="222.40" r="1.00" fill="#2a2040" stroke="#2a2a2a" stroke-width="0.35"/>
<circle cx="330.28" cy="233.70" r="1.20" fill="#902828" stroke="#2a2a2a" stroke-width="0.35"/>
<line x1="330.28" y1="245.10" x2="330.28" y2="247.40" stroke="#222" stroke-width="0.8"/>
<text x="332.58" y="248.6" font-size="7.2" text-anchor="end" fill="#505050" transform="rotate(-90 332.58 248.6)" stroke="#505050">Slc2a3</text>
<circle cx="338.34" cy="211.10" r="1.20" fill="#2c1e7e" stroke="#2a2a2a" stroke-width="0.35"/>
<circle cx="338.34" cy="222.40" r="1.30" fill="#d06050" stroke="#2a2a2a" stroke-width="0.35"/>
<circle cx="338.34" cy="233.70" r="1.50" fill="#d03a30" stroke="#2a2a2a" stroke-width="0.35"/>
<line x1="338.34" y1="245.10" x2="338.34" y2="247.40" stroke="#222" stroke-width="0.8"/>
<text x="340.64" y="248.6" font-size="7.2" text-anchor="end" fill="#505050" transform="rotate(-90 340.64 248.6)" stroke="#505050">Pdk1</text>
<circle cx="346.39" cy="211.10" r="2.50" fill="#d04030" stroke="#2a2a2a" stroke-width="0.35"/>
<circle cx="346.39" cy="222.40" r="2.50" fill="#2c1e7e" stroke="#2a2a2a" stroke-width="0.35"/>
<circle cx="346.39" cy="233.70" r="2.50" fill="#9aa0c0" stroke="#2a2a2a" stroke-width="0.35"/>
<line x1="346.39" y1="245.10" x2="346.39" y2="247.40" stroke="#222" stroke-width="0.8"/>
<text x="348.69" y="248.6" font-size="7.2" text-anchor="end" fill="#505050" transform="rotate(-90 348.69 248.6)" stroke="#505050">Sdhd</text>
<circle cx="354.44" cy="211.10" r="0.90" fill="#2a2040" stroke="#2a2a2a" stroke-width="0.35"/>
<circle cx="354.44" cy="222.40" r="1.00" fill="#a04030" stroke="#2a2a2a" stroke-width="0.35"/>
<circle cx="354.44" cy="233.70" r="0.80" fill="#2a2040" stroke="#2a2a2a" stroke-width="0.35"/>
<line x1="354.44" y1="245.10" x2="354.44" y2="247.40" stroke="#222" stroke-width="0.8"/>
<text x="356.74" y="248.6" font-size="7.2" text-anchor="end" fill="#505050" transform="rotate(-90 356.74 248.6)" stroke="#505050">Idh1</text>
<circle cx="362.50" cy="211.10" r="2.00" fill="#c84030" stroke="#2a2a2a" stroke-width="0.35"/>
<circle cx="362.50" cy="222.40" r="1.80" fill="#faf6f6" stroke="#777" stroke-width="0.35"/>
<circle cx="362.50" cy="233.70" r="1.80" fill="#2c1e7e" stroke="#2a2a2a" stroke-width="0.35"/>
<line x1="362.50" y1="245.10" x2="362.50" y2="247.40" stroke="#222" stroke-width="0.8"/>
<text x="364.80" y="248.6" font-size="7.2" text-anchor="end" fill="#505050" transform="rotate(-90 364.80 248.6)" stroke="#505050">Pdha1</text>
<circle cx="370.55" cy="211.10" r="1.50" fill="#c03040" stroke="#2a2a2a" stroke-width="0.35"/>
<circle cx="370.55" cy="222.40" r="1.50" fill="#a03030" stroke="#2a2a2a" stroke-width="0.35"/>
<circle cx="370.55" cy="233.70" r="1.50" fill="#2a2040" stroke="#2a2a2a" stroke-width="0.35"/>
<line x1="370.55" y1="245.10" x2="370.55" y2="247.40" stroke="#222" stroke-width="0.8"/>
<text x="372.85" y="248.6" font-size="7.2" text-anchor="end" fill="#505050" transform="rotate(-90 372.85 248.6)" stroke="#505050">Cs</text>
<circle cx="378.61" cy="211.10" r="2.80" fill="#e8341c" stroke="#2a2a2a" stroke-width="0.35"/>
<circle cx="378.61" cy="222.40" r="2.50" fill="#2c1e7e" stroke="#2a2a2a" stroke-width="0.35"/>
<circle cx="378.61" cy="233.70" r="2.70" fill="#faf6f6" stroke="#777" stroke-width="0.35"/>
<line x1="378.61" y1="245.10" x2="378.61" y2="247.40" stroke="#222" stroke-width="0.8"/>
<text x="380.91" y="248.6" font-size="7.2" text-anchor="end" fill="#505050" transform="rotate(-90 380.91 248.6)" stroke="#505050">Sdhb</text>
<circle cx="386.66" cy="211.10" r="2.00" fill="#c05040" stroke="#2a2a2a" stroke-width="0.35"/>
<circle cx="386.66" cy="222.40" r="1.60" fill="#2c1e7e" stroke="#2a2a2a" stroke-width="0.35"/>
<circle cx="386.66" cy="233.70" r="2.00" fill="#c04040" stroke="#2a2a2a" stroke-width="0.35"/>
<line x1="386.66" y1="245.10" x2="386.66" y2="247.40" stroke="#222" stroke-width="0.8"/>
<text x="388.96" y="248.6" font-size="7.2" text-anchor="end" fill="#505050" transform="rotate(-90 388.96 248.6)" stroke="#505050">Idh3a</text>
<circle cx="394.71" cy="211.10" r="1.70" fill="#2c1e7e" stroke="#2a2a2a" stroke-width="0.35"/>
<circle cx="394.71" cy="222.40" r="1.70" fill="#d0c8dc" stroke="#2a2a2a" stroke-width="0.35"/>
<circle cx="394.71" cy="233.70" r="2.30" fill="#d83040" stroke="#2a2a2a" stroke-width="0.35"/>
<line x1="394.71" y1="245.10" x2="394.71" y2="247.40" stroke="#222" stroke-width="0.8"/>
<text x="397.01" y="248.6" font-size="7.2" text-anchor="end" fill="#505050" transform="rotate(-90 397.01 248.6)" stroke="#505050">Gls</text>
<circle cx="402.77" cy="211.10" r="1.00" fill="#c0c0c0" stroke="#2a2a2a" stroke-width="0.35"/>
<circle cx="402.77" cy="222.40" r="0.90" fill="#a03030" stroke="#2a2a2a" stroke-width="0.35"/>
<circle cx="402.77" cy="233.70" r="0.90" fill="#801818" stroke="#2a2a2a" stroke-width="0.35"/>
<line x1="402.77" y1="245.10" x2="402.77" y2="247.40" stroke="#222" stroke-width="0.8"/>
<text x="405.07" y="248.6" font-size="7.2" text-anchor="end" fill="#505050" transform="rotate(-90 405.07 248.6)" stroke="#505050">Slc25a12</text>
<circle cx="410.82" cy="211.10" r="2.30" fill="#c83038" stroke="#2a2a2a" stroke-width="0.35"/>
<circle cx="410.82" cy="222.40" r="2.30" fill="#2c1e7e" stroke="#2a2a2a" stroke-width="0.35"/>
<circle cx="410.82" cy="233.70" r="2.50" fill="#e02838" stroke="#2a2a2a" stroke-width="0.35"/>
<line x1="410.82" y1="245.10" x2="410.82" y2="247.40" stroke="#222" stroke-width="0.8"/>
<text x="413.12" y="248.6" font-size="7.2" text-anchor="end" fill="#505050" transform="rotate(-90 413.12 248.6)" stroke="#505050">Slc38a1</text>
<circle cx="418.88" cy="211.10" r="0.90" fill="#902020" stroke="#2a2a2a" stroke-width="0.35"/>
<circle cx="418.88" cy="222.40" r="0.70" fill="#2a2040" stroke="#2a2a2a" stroke-width="0.35"/>
<circle cx="418.88" cy="233.70" r="1.20" fill="#c0c0c0" stroke="#2a2a2a" stroke-width="0.35"/>
<line x1="418.88" y1="245.10" x2="418.88" y2="247.40" stroke="#222" stroke-width="0.8"/>
<text x="421.18" y="248.6" font-size="7.2" text-anchor="end" fill="#505050" transform="rotate(-90 421.18 248.6)" stroke="#505050">Got1</text>
<circle cx="426.93" cy="211.10" r="1.80" fill="#b04040" stroke="#2a2a2a" stroke-width="0.35"/>
<circle cx="426.93" cy="222.40" r="1.70" fill="#607090" stroke="#2a2a2a" stroke-width="0.35"/>
<circle cx="426.93" cy="233.70" r="1.50" fill="#2a2040" stroke="#2a2a2a" stroke-width="0.35"/>
<line x1="426.93" y1="245.10" x2="426.93" y2="247.40" stroke="#222" stroke-width="0.8"/>
<text x="429.23" y="248.6" font-size="7.2" text-anchor="end" fill="#505050" transform="rotate(-90 429.23 248.6)" stroke="#505050">Got2</text>
<circle cx="434.98" cy="211.10" r="2.30" fill="#d83040" stroke="#2a2a2a" stroke-width="0.35"/>
<circle cx="434.98" cy="222.40" r="2.00" fill="#faf6f6" stroke="#777" stroke-width="0.35"/>
<circle cx="434.98" cy="233.70" r="2.30" fill="#2c1e7e" stroke="#2a2a2a" stroke-width="0.35"/>
<line x1="434.98" y1="245.10" x2="434.98" y2="247.40" stroke="#222" stroke-width="0.8"/>
<text x="437.28" y="248.6" font-size="7.2" text-anchor="end" fill="#505050" transform="rotate(-90 437.28 248.6)" stroke="#505050">Glud1</text>
<path d="M61.80 199.5 V196.9 H98.52 V199.5" fill="none" stroke="#222" stroke-width="0.8"/>
<text x="80.16" y="192.88" font-size="6.6" text-anchor="middle" fill="#2b2b2b" font-weight="normal" stroke="#2b2b2b" textLength="32.6" lengthAdjust="spacingAndGlyphs">Nuclear ETC</text>
<path d="M102.07 199.5 V196.9 H130.73 V199.5" fill="none" stroke="#222" stroke-width="0.8"/>
<text x="116.40" y="192.88" font-size="6.6" text-anchor="middle" fill="#2b2b2b" font-weight="normal" stroke="#2b2b2b" textLength="24.3" lengthAdjust="spacingAndGlyphs">Mito ETC</text>
<path d="M134.29 199.5 V196.9 H187.11 V199.5" fill="none" stroke="#222" stroke-width="0.8"/>
<text x="160.70" y="192.88" font-size="6.6" text-anchor="middle" fill="#2b2b2b" font-weight="normal" stroke="#2b2b2b" textLength="29.5" lengthAdjust="spacingAndGlyphs">Nucleotide</text>
<path d="M190.66 199.5 V196.9 H259.60 V199.5" fill="none" stroke="#222" stroke-width="0.8"/>
<text x="225.13" y="192.88" font-size="6.6" text-anchor="middle" fill="#2b2b2b" font-weight="normal" stroke="#2b2b2b" textLength="26.8" lengthAdjust="spacingAndGlyphs">Fatty acid</text>
<path d="M263.15 199.5 V196.9 H332.08 V199.5" fill="none" stroke="#222" stroke-width="0.8"/>
<text x="297.62" y="192.88" font-size="6.6" text-anchor="middle" fill="#2b2b2b" font-weight="normal" stroke="#2b2b2b" textLength="25.8" lengthAdjust="spacingAndGlyphs">Glycolysis</text>
<path d="M335.64 199.5 V196.9 H388.46 V199.5" fill="none" stroke="#222" stroke-width="0.8"/>
<text x="362.05" y="192.88" font-size="6.6" text-anchor="middle" fill="#2b2b2b" font-weight="normal" stroke="#2b2b2b" textLength="12.9" lengthAdjust="spacingAndGlyphs">TCA</text>
<path d="M392.01 199.5 V196.9 H436.78 V199.5" fill="none" stroke="#222" stroke-width="0.8"/>
<text x="414.40" y="192.88" font-size="6.6" text-anchor="middle" fill="#2b2b2b" font-weight="normal" stroke="#2b2b2b" textLength="27.4" lengthAdjust="spacingAndGlyphs">Glutamine</text>
<text x="473.20" y="193.88" font-size="6.6" text-anchor="middle" fill="#2b2b2b" font-weight="normal" stroke="#2b2b2b" textLength="41.2" lengthAdjust="spacingAndGlyphs">Fraction of cells</text>
<text x="473.20" y="201.18" font-size="6.6" text-anchor="middle" fill="#2b2b2b" font-weight="normal" stroke="#2b2b2b" textLength="32.0" lengthAdjust="spacingAndGlyphs">in group (%)</text>
<circle cx="458.00" cy="208.20" r="0.80" fill="#111"/>
<line x1="457.50" y1="215.20" x2="457.50" y2="218.20" stroke="#333" stroke-width="0.5"/>
<line x1="458.50" y1="215.20" x2="458.50" y2="218.20" stroke="#333" stroke-width="0.5"/>
<text x="458.00" y="227.18" font-size="6.6" text-anchor="middle" fill="#2b2b2b" font-weight="normal" stroke="#2b2b2b">10</text>
<circle cx="467.80" cy="208.20" r="1.60" fill="#111"/>
<line x1="467.30" y1="215.20" x2="467.30" y2="218.20" stroke="#333" stroke-width="0.5"/>
<line x1="468.30" y1="215.20" x2="468.30" y2="218.20" stroke="#333" stroke-width="0.5"/>
<text x="467.80" y="227.18" font-size="6.6" text-anchor="middle" fill="#2b2b2b" font-weight="normal" stroke="#2b2b2b">30</text>
<circle cx="478.00" cy="208.20" r="2.60" fill="#111"/>
<line x1="477.50" y1="215.20" x2="477.50" y2="218.20" stroke="#333" stroke-width="0.5"/>
<line x1="478.50" y1="215.20" x2="478.50" y2="218.20" stroke="#333" stroke-width="0.5"/>
<text x="478.00" y="227.18" font-size="6.6" text-anchor="middle" fill="#2b2b2b" font-weight="normal" stroke="#2b2b2b">50</text>
<circle cx="488.30" cy="208.20" r="3.30" fill="#111"/>
<line x1="487.80" y1="215.20" x2="487.80" y2="218.20" stroke="#333" stroke-width="0.5"/>
<line x1="488.80" y1="215.20" x2="488.80" y2="218.20" stroke="#333" stroke-width="0.5"/>
<text x="488.30" y="227.18" font-size="6.6" text-anchor="middle" fill="#2b2b2b" font-weight="normal" stroke="#2b2b2b">70</text>
<line x1="455.00" y1="221.20" x2="490.80" y2="221.20" stroke="#222" stroke-width="0.8"/>
<text x="473.00" y="242.38" font-size="6.6" text-anchor="middle" fill="#2b2b2b" font-weight="normal" stroke="#2b2b2b" textLength="44.0" lengthAdjust="spacingAndGlyphs">Mean expression</text>
<text x="473.00" y="249.38" font-size="6.6" text-anchor="middle" fill="#2b2b2b" font-weight="normal" stroke="#2b2b2b" textLength="21.5" lengthAdjust="spacingAndGlyphs">in group</text>
<defs><linearGradient id="bwr" x1="0" y1="0" x2="1" y2="0">
<stop offset="0" stop-color="#1e1458"/><stop offset="0.12" stop-color="#2a2080"/>
<stop offset="0.3" stop-color="#6a68c0"/><stop offset="0.5" stop-color="#f8f6f6"/>
<stop offset="0.72" stop-color="#f0a0a0"/><stop offset="1" stop-color="#e01818"/></linearGradient></defs>
<rect x="454.60" y="253.40" width="37.20" height="6.10" fill="url(#bwr)"/>
<text x="455.00" y="268.58" font-size="6.6" text-anchor="middle" fill="#2b2b2b" font-weight="normal" stroke="#2b2b2b">0.0</text>
<text x="472.80" y="268.58" font-size="6.6" text-anchor="middle" fill="#2b2b2b" font-weight="normal" stroke="#2b2b2b">0.5</text>
<text x="491.00" y="268.58" font-size="6.6" text-anchor="middle" fill="#2b2b2b" font-weight="normal" stroke="#2b2b2b">1.0</text>
<text x="7.00" y="295.80" font-size="10.4" text-anchor="start" fill="#111" font-weight="bold" textLength="8.2" lengthAdjust="spacingAndGlyphs">D</text>
<defs>
<linearGradient id="ucb" x1="0" y1="1" x2="0" y2="0">
<stop offset="0" stop-color="#c4c4c4"/><stop offset="0.25" stop-color="#d4c8c4"/>
<stop offset="0.42" stop-color="#e0a898"/><stop offset="0.6" stop-color="#d86850"/>
<stop offset="0.78" stop-color="#b02a20"/><stop offset="0.92" stop-color="#701010"/>
<stop offset="1" stop-color="#200808"/></linearGradient>
<polygon id="uarm" points="2.8,10.0 5,9.0 8.5,8.8 10.8,9.4 11.0,11.8 8,12.4 4.5,12.5 2.8,11.6"/>
<polygon id="ulobe" points="10.3,9.4 13,8.6 16,9 18.5,10.5 20.5,13 23,15.5 26,17 27.5,22 28.5,28 27.5,31 25.5,34 24,37 21,37.6 18.5,36 16.5,31.4 14.2,24.5 11.8,16.7"/>
<polygon id="urlobe" points="25,17.5 26,13 27.5,9.5 30,6.5 32.4,3.6 35,3.6 38.5,5 42,7.5 45.5,11.5 48,15.5 49.2,19 48.4,22 45,25.5 41.5,27.8 37,30 33,32.4 30,31.5 27.5,29.5 25.5,25"/>
<g id="usp"><circle cx="23.7" cy="22.5" r="0.72"/><circle cx="24.4" cy="20.8" r="0.58"/><circle cx="32.2" cy="30.2" r="0.39"/><circle cx="40.9" cy="26.9" r="0.37"/><circle cx="33.4" cy="24.3" r="0.41"/><circle cx="4.9" cy="10.3" r="0.36"/><circle cx="24.3" cy="18.5" r="0.69"/><circle cx="26.9" cy="25.1" r="0.55"/><circle cx="33.8" cy="19.1" r="0.46"/><circle cx="17.1" cy="11.6" r="0.47"/><circle cx="21.2" cy="31.9" r="0.50"/><circle cx="45.7" cy="19.5" r="0.74"/><circle cx="32.2" cy="29.7" r="0.46"/><circle cx="7.7" cy="12.1" r="0.37"/><circle cx="40.3" cy="9.9" r="0.57"/><circle cx="37.1" cy="8.3" r="0.61"/><circle cx="12.2" cy="12.9" r="0.74"/><circle cx="40.6" cy="14.0" r="0.70"/><circle cx="12.1" cy="17.0" r="0.69"/><circle cx="32.8" cy="7.3" r="0.75"/><circle cx="12.2" cy="12.5" r="0.66"/><circle cx="17.8" cy="13.8" r="0.38"/><circle cx="19.8" cy="19.0" r="0.73"/><circle cx="25.2" cy="23.0" r="0.70"/><circle cx="14.0" cy="10.3" r="0.65"/><circle cx="31.0" cy="17.9" r="0.39"/><circle cx="30.6" cy="13.7" r="0.42"/><circle cx="36.6" cy="6.3" r="0.44"/><circle cx="31.5" cy="13.2" r="0.72"/><circle cx="14.9" cy="18.7" r="0.37"/><circle cx="29.5" cy="8.3" r="0.49"/><circle cx="33.5" cy="26.8" r="0.58"/><circle cx="25.1" cy="28.1" r="0.48"/><circle cx="28.2" cy="28.3" r="0.71"/><circle cx="37.4" cy="27.2" r="0.67"/><circle cx="45.9" cy="15.6" r="0.62"/><circle cx="22.0" cy="30.1" r="0.70"/><circle cx="29.5" cy="24.6" r="0.50"/><circle cx="30.0" cy="24.1" r="0.38"/><circle cx="20.6" cy="28.3" r="0.58"/><circle cx="23.1" cy="31.7" r="0.38"/><circle cx="38.0" cy="5.0" r="0.59"/><circle cx="35.5" cy="20.4" r="0.60"/><circle cx="34.6" cy="10.7" r="0.42"/><circle cx="23.2" cy="33.4" r="0.48"/><circle cx="34.0" cy="10.6" r="0.52"/><circle cx="44.3" cy="16.7" r="0.58"/><circle cx="25.8" cy="31.6" r="0.69"/><circle cx="15.3" cy="9.6" r="0.53"/><circle cx="15.2" cy="11.1" r="0.52"/><circle cx="32.0" cy="20.3" r="0.48"/><circle cx="29.4" cy="14.2" r="0.67"/><circle cx="41.8" cy="11.8" r="0.41"/><circle cx="23.4" cy="24.8" r="0.61"/><circle cx="34.9" cy="10.6" r="0.54"/><circle cx="24.7" cy="27.6" r="0.42"/><circle cx="15.1" cy="15.4" r="0.63"/><circle cx="27.0" cy="24.3" r="0.65"/><circle cx="20.9" cy="30.1" r="0.71"/><circle cx="36.7" cy="8.3" r="0.53"/><circle cx="20.1" cy="22.8" r="0.70"/><circle cx="24.3" cy="25.5" r="0.43"/><circle cx="32.8" cy="27.7" r="0.44"/><circle cx="40.0" cy="14.6" r="0.71"/><circle cx="43.1" cy="15.5" r="0.38"/><circle cx="23.2" cy="22.2" r="0.66"/><circle cx="40.4" cy="9.7" r="0.48"/><circle cx="39.8" cy="8.6" r="0.41"/><circle cx="26.8" cy="27.9" r="0.69"/><circle cx="15.9" cy="28.1" r="0.61"/><circle cx="28.9" cy="14.3" r="0.50"/><circle cx="48.5" cy="21.3" r="0.58"/><circle cx="26.2" cy="24.0" r="0.36"/><circle cx="48.5" cy="21.0" r="0.51"/><circle cx="40.5" cy="22.6" r="0.55"/><circle cx="35.2" cy="6.2" r="0.57"/><circle cx="21.9" cy="35.6" r="0.72"/><circle cx="14.9" cy="19.6" r="0.40"/><circle cx="22.8" cy="30.9" r="0.71"/><circle cx="11.3" cy="11.5" r="0.62"/><circle cx="17.5" cy="15.7" r="0.60"/><circle cx="14.0" cy="10.5" r="0.56"/><circle cx="23.0" cy="16.4" r="0.52"/><circle cx="32.6" cy="21.5" r="0.69"/><circle cx="17.2" cy="14.4" r="0.72"/><circle cx="41.9" cy="17.9" r="0.67"/><circle cx="34.9" cy="4.6" r="0.43"/><circle cx="26.3" cy="29.0" r="0.55"/><circle cx="34.9" cy="10.2" r="0.38"/><circle cx="28.5" cy="21.0" r="0.58"/><circle cx="9.0" cy="10.1" r="0.69"/><circle cx="47.7" cy="19.2" r="0.66"/><circle cx="17.7" cy="19.4" r="0.56"/><circle cx="22.6" cy="23.8" r="0.36"/><circle cx="37.5" cy="17.4" r="0.43"/><circle cx="40.5" cy="27.3" r="0.69"/><circle cx="32.2" cy="17.3" r="0.59"/><circle cx="40.6" cy="12.5" r="0.71"/><circle cx="41.1" cy="17.4" r="0.71"/><circle cx="21.5" cy="27.8" r="0.38"/><circle cx="18.4" cy="19.5" r="0.35"/><circle cx="19.1" cy="25.1" r="0.60"/><circle cx="34.0" cy="15.1" r="0.61"/><circle cx="29.3" cy="21.6" r="0.51"/><circle cx="35.7" cy="29.1" r="0.74"/><circle cx="37.5" cy="12.5" r="0.51"/><circle cx="4.4" cy="10.4" r="0.39"/><circle cx="28.4" cy="20.8" r="0.74"/><circle cx="32.6" cy="30.7" r="0.38"/><circle cx="30.7" cy="29.1" r="0.37"/><circle cx="25.8" cy="24.2" r="0.37"/><circle cx="47.4" cy="17.9" r="0.56"/><circle cx="30.7" cy="16.1" r="0.46"/><circle cx="33.4" cy="22.5" r="0.46"/><circle cx="36.4" cy="13.8" r="0.36"/><circle cx="20.7" cy="33.6" r="0.65"/><circle cx="45.5" cy="18.2" r="0.54"/><circle cx="36.7" cy="19.5" r="0.74"/><circle cx="41.2" cy="23.9" r="0.40"/><circle cx="32.0" cy="19.0" r="0.43"/><circle cx="34.1" cy="19.0" r="0.45"/><circle cx="29.9" cy="17.8" r="0.66"/><circle cx="32.0" cy="15.9" r="0.46"/><circle cx="34.9" cy="22.6" r="0.59"/><circle cx="32.4" cy="28.9" r="0.43"/><circle cx="15.0" cy="18.0" r="0.60"/><circle cx="34.5" cy="22.2" r="0.60"/><circle cx="19.9" cy="19.8" r="0.43"/><circle cx="18.5" cy="28.6" r="0.69"/><circle cx="40.8" cy="24.6" r="0.66"/><circle cx="12.2" cy="18.0" r="0.45"/><circle cx="40.9" cy="16.2" r="0.61"/><circle cx="28.3" cy="28.6" r="0.72"/><circle cx="22.5" cy="16.2" r="0.39"/><circle cx="25.3" cy="26.6" r="0.47"/><circle cx="39.2" cy="6.5" r="0.44"/><circle cx="33.8" cy="6.7" r="0.47"/><circle cx="36.8" cy="26.9" r="0.46"/><circle cx="36.8" cy="16.1" r="0.40"/><circle cx="36.0" cy="22.8" r="0.72"/><circle cx="23.0" cy="30.5" r="0.47"/><circle cx="17.2" cy="17.2" r="0.72"/><circle cx="44.9" cy="12.2" r="0.49"/><circle cx="19.5" cy="16.0" r="0.51"/><circle cx="29.1" cy="30.3" r="0.57"/><circle cx="42.1" cy="22.6" r="0.42"/><circle cx="26.8" cy="22.0" r="0.58"/><circle cx="28.2" cy="30.0" r="0.38"/><circle cx="32.4" cy="8.7" r="0.65"/><circle cx="33.2" cy="12.1" r="0.44"/><circle cx="38.7" cy="21.2" r="0.66"/><circle cx="20.9" cy="15.1" r="0.74"/><circle cx="34.3" cy="20.3" r="0.56"/><circle cx="36.6" cy="27.4" r="0.72"/><circle cx="21.7" cy="31.3" r="0.62"/><circle cx="27.1" cy="27.4" r="0.67"/><circle cx="22.2" cy="17.9" r="0.41"/><circle cx="39.2" cy="9.9" r="0.37"/><circle cx="24.0" cy="23.3" r="0.71"/><circle cx="10.9" cy="11.2" r="0.44"/><circle cx="36.4" cy="23.6" r="0.44"/><circle cx="17.0" cy="22.1" r="0.68"/><circle cx="18.4" cy="22.1" r="0.73"/><circle cx="40.5" cy="16.7" r="0.56"/><circle cx="26.8" cy="13.1" r="0.75"/><circle cx="33.6" cy="11.8" r="0.35"/><circle cx="40.2" cy="27.5" r="0.59"/><circle cx="9.5" cy="9.2" r="0.45"/><circle cx="43.7" cy="21.0" r="0.60"/><circle cx="24.5" cy="35.5" r="0.58"/><circle cx="43.2" cy="14.0" r="0.67"/><circle cx="22.0" cy="34.3" r="0.39"/><circle cx="41.7" cy="10.9" r="0.57"/><circle cx="41.9" cy="14.3" r="0.47"/><circle cx="24.4" cy="27.6" r="0.49"/><circle cx="35.0" cy="7.5" r="0.51"/><circle cx="24.2" cy="35.9" r="0.68"/><circle cx="33.4" cy="4.4" r="0.50"/><circle cx="36.1" cy="11.8" r="0.58"/><circle cx="15.9" cy="16.4" r="0.57"/><circle cx="16.3" cy="15.1" r="0.51"/><circle cx="34.0" cy="12.5" r="0.43"/><circle cx="37.1" cy="14.9" r="0.73"/><circle cx="29.0" cy="27.9" r="0.48"/><circle cx="34.5" cy="27.4" r="0.42"/><circle cx="21.3" cy="31.6" r="0.59"/><circle cx="6.3" cy="11.5" r="0.40"/><circle cx="46.2" cy="18.1" r="0.55"/><circle cx="33.1" cy="29.3" r="0.68"/><circle cx="20.5" cy="14.9" r="0.51"/><circle cx="39.9" cy="25.8" r="0.59"/><circle cx="18.4" cy="25.5" r="0.39"/><circle cx="20.1" cy="20.8" r="0.67"/><circle cx="41.6" cy="24.2" r="0.41"/><circle cx="28.3" cy="15.6" r="0.55"/><circle cx="32.1" cy="10.5" r="0.38"/><circle cx="35.5" cy="14.9" r="0.72"/><circle cx="19.3" cy="19.3" r="0.40"/><circle cx="45.4" cy="21.9" r="0.57"/><circle cx="28.9" cy="12.7" r="0.71"/><circle cx="30.9" cy="8.0" r="0.68"/><circle cx="41.9" cy="10.1" r="0.57"/><circle cx="16.8" cy="26.2" r="0.65"/><circle cx="20.3" cy="23.5" r="0.67"/><circle cx="20.5" cy="22.8" r="0.42"/><circle cx="26.9" cy="12.7" r="0.58"/><circle cx="17.9" cy="25.2" r="0.37"/><circle cx="34.2" cy="8.8" r="0.73"/><circle cx="30.8" cy="19.5" r="0.51"/><circle cx="31.9" cy="26.7" r="0.65"/><circle cx="38.1" cy="20.0" r="0.75"/><circle cx="21.6" cy="18.3" r="0.58"/><circle cx="45.5" cy="21.4" r="0.56"/><circle cx="22.7" cy="33.8" r="0.48"/><circle cx="30.7" cy="28.8" r="0.47"/><circle cx="30.5" cy="6.3" r="0.40"/><circle cx="23.5" cy="20.6" r="0.51"/><circle cx="27.3" cy="11.9" r="0.47"/><circle cx="43.6" cy="17.9" r="0.67"/><circle cx="13.7" cy="13.9" r="0.48"/><circle cx="41.1" cy="17.1" r="0.49"/><circle cx="16.8" cy="20.4" r="0.72"/><circle cx="48.9" cy="19.6" r="0.43"/><circle cx="42.2" cy="15.7" r="0.54"/><circle cx="32.4" cy="10.3" r="0.70"/><circle cx="36.8" cy="14.3" r="0.71"/><circle cx="47.0" cy="18.7" r="0.38"/><circle cx="12.7" cy="14.1" r="0.63"/><circle cx="11.4" cy="10.0" r="0.44"/><circle cx="33.9" cy="30.1" r="0.50"/><circle cx="30.3" cy="11.6" r="0.47"/><circle cx="15.3" cy="25.1" r="0.39"/><circle cx="27.4" cy="21.5" r="0.37"/><circle cx="30.8" cy="13.4" r="0.45"/><circle cx="40.6" cy="6.9" r="0.46"/><circle cx="38.3" cy="12.1" r="0.46"/><circle cx="28.3" cy="10.1" r="0.71"/><circle cx="24.2" cy="28.8" r="0.50"/><circle cx="46.6" cy="20.5" r="0.42"/><circle cx="28.7" cy="25.3" r="0.49"/><circle cx="33.6" cy="29.8" r="0.56"/><circle cx="26.3" cy="31.9" r="0.62"/><circle cx="13.3" cy="18.5" r="0.66"/><circle cx="13.3" cy="20.1" r="0.44"/><circle cx="29.8" cy="20.5" r="0.36"/><circle cx="30.6" cy="27.6" r="0.58"/><circle cx="43.9" cy="9.9" r="0.41"/><circle cx="22.9" cy="18.6" r="0.46"/><circle cx="40.3" cy="6.4" r="0.71"/><circle cx="29.3" cy="21.9" r="0.67"/><circle cx="13.4" cy="8.8" r="0.47"/><circle cx="31.8" cy="21.3" r="0.46"/><circle cx="30.3" cy="6.9" r="0.68"/><circle cx="25.5" cy="29.1" r="0.74"/><circle cx="37.8" cy="5.3" r="0.45"/><circle cx="20.9" cy="13.8" r="0.52"/><circle cx="37.2" cy="11.6" r="0.45"/><circle cx="28.5" cy="12.0" r="0.53"/><circle cx="46.8" cy="16.0" r="0.48"/><circle cx="33.2" cy="5.9" r="0.49"/><circle cx="24.2" cy="17.0" r="0.69"/><circle cx="20.3" cy="29.8" r="0.44"/><circle cx="28.4" cy="9.4" r="0.43"/><circle cx="16.8" cy="18.8" r="0.75"/><circle cx="11.8" cy="16.6" r="0.38"/><circle cx="35.2" cy="16.0" r="0.46"/><circle cx="2.9" cy="10.0" r="0.51"/><circle cx="14.9" cy="15.9" r="0.41"/><circle cx="47.0" cy="15.9" r="0.66"/><circle cx="44.4" cy="14.7" r="0.66"/><circle cx="17.0" cy="18.0" r="0.57"/><circle cx="34.0" cy="8.9" r="0.43"/><circle cx="15.5" cy="27.5" r="0.51"/><circle cx="20.6" cy="32.6" r="0.44"/><circle cx="16.0" cy="15.4" r="0.44"/><circle cx="32.3" cy="22.7" r="0.67"/><circle cx="43.7" cy="11.7" r="0.60"/><circle cx="20.4" cy="14.8" r="0.55"/><circle cx="15.4" cy="9.2" r="0.51"/><circle cx="33.9" cy="11.9" r="0.39"/><circle cx="18.4" cy="17.9" r="0.41"/><circle cx="30.0" cy="27.1" r="0.57"/><circle cx="35.6" cy="4.8" r="0.51"/><circle cx="25.8" cy="23.3" r="0.54"/><circle cx="17.6" cy="12.4" r="0.36"/><circle cx="18.7" cy="33.4" r="0.58"/><circle cx="19.4" cy="23.0" r="0.73"/><circle cx="39.0" cy="24.7" r="0.60"/><circle cx="21.7" cy="17.7" r="0.46"/><circle cx="20.3" cy="34.0" r="0.37"/><circle cx="16.8" cy="15.9" r="0.74"/><circle cx="9.2" cy="10.4" r="0.62"/><circle cx="28.1" cy="17.0" r="0.45"/><circle cx="25.7" cy="25.5" r="0.57"/><circle cx="32.0" cy="22.5" r="0.68"/><circle cx="18.6" cy="33.2" r="0.48"/><circle cx="36.4" cy="26.9" r="0.62"/><circle cx="25.6" cy="22.6" r="0.50"/><circle cx="15.7" cy="28.7" r="0.56"/><circle cx="13.4" cy="12.2" r="0.48"/><circle cx="35.8" cy="7.7" r="0.53"/><circle cx="39.1" cy="19.9" r="0.42"/><circle cx="40.2" cy="16.9" r="0.64"/><circle cx="17.7" cy="15.0" r="0.65"/><circle cx="29.2" cy="17.9" r="0.63"/><circle cx="31.9" cy="31.4" r="0.67"/><circle cx="34.1" cy="11.6" r="0.42"/><circle cx="22.1" cy="24.8" r="0.51"/><circle cx="15.7" cy="28.1" r="0.75"/><circle cx="16.8" cy="30.4" r="0.69"/><circle cx="15.6" cy="16.9" r="0.60"/><circle cx="20.7" cy="26.9" r="0.57"/><circle cx="40.4" cy="8.8" r="0.42"/><circle cx="14.1" cy="20.1" r="0.40"/><circle cx="29.2" cy="8.7" r="0.60"/><circle cx="15.2" cy="11.5" r="0.54"/><circle cx="19.6" cy="12.6" r="0.37"/><circle cx="43.6" cy="20.0" r="0.52"/><circle cx="40.7" cy="17.1" r="0.37"/><circle cx="28.4" cy="25.7" r="0.60"/><circle cx="23.3" cy="31.5" r="0.64"/><circle cx="38.2" cy="14.2" r="0.56"/><circle cx="27.3" cy="30.7" r="0.67"/><circle cx="37.3" cy="17.2" r="0.67"/><circle cx="47.6" cy="17.3" r="0.63"/><circle cx="12.9" cy="16.8" r="0.50"/><circle cx="33.5" cy="30.8" r="0.50"/><circle cx="32.6" cy="15.7" r="0.46"/><circle cx="45.4" cy="14.6" r="0.39"/><circle cx="18.1" cy="28.5" r="0.43"/></g>
<g id="udsp"><circle cx="37.7" cy="22.0" r="0.59"/><circle cx="26.1" cy="17.3" r="0.46"/><circle cx="17.4" cy="28.9" r="0.39"/><circle cx="21.6" cy="27.3" r="0.41"/><circle cx="15.1" cy="26.3" r="0.68"/><circle cx="17.5" cy="10.1" r="0.48"/><circle cx="32.5" cy="16.5" r="0.58"/><circle cx="32.2" cy="20.7" r="0.55"/><circle cx="35.1" cy="19.0" r="0.58"/><circle cx="22.1" cy="16.7" r="0.43"/><circle cx="30.8" cy="22.9" r="0.53"/><circle cx="23.4" cy="23.6" r="0.56"/><circle cx="37.4" cy="14.3" r="0.61"/><circle cx="36.2" cy="12.3" r="0.63"/><circle cx="23.8" cy="21.7" r="0.65"/><circle cx="11.4" cy="13.2" r="0.58"/><circle cx="39.8" cy="20.2" r="0.43"/><circle cx="39.0" cy="22.1" r="0.67"/><circle cx="40.2" cy="9.0" r="0.48"/><circle cx="18.6" cy="32.5" r="0.64"/><circle cx="20.7" cy="32.0" r="0.57"/><circle cx="36.9" cy="10.5" r="0.58"/><circle cx="18.3" cy="14.4" r="0.57"/><circle cx="15.4" cy="23.9" r="0.59"/><circle cx="35.3" cy="19.4" r="0.40"/><circle cx="31.3" cy="15.8" r="0.42"/><circle cx="37.3" cy="15.9" r="0.46"/><circle cx="32.3" cy="18.0" r="0.64"/><circle cx="21.6" cy="19.1" r="0.53"/><circle cx="47.2" cy="15.4" r="0.60"/><circle cx="34.5" cy="19.0" r="0.68"/><circle cx="20.6" cy="28.5" r="0.56"/><circle cx="23.2" cy="35.5" r="0.45"/><circle cx="35.4" cy="26.2" r="0.44"/><circle cx="45.0" cy="12.3" r="0.50"/><circle cx="18.4" cy="31.1" r="0.65"/><circle cx="30.4" cy="22.0" r="0.38"/><circle cx="19.5" cy="16.4" r="0.60"/><circle cx="34.1" cy="15.3" r="0.66"/><circle cx="32.4" cy="19.5" r="0.48"/><circle cx="34.2" cy="24.0" r="0.69"/><circle cx="21.0" cy="31.3" r="0.58"/><circle cx="21.3" cy="25.7" r="0.43"/><circle cx="20.9" cy="28.5" r="0.38"/><circle cx="31.9" cy="28.5" r="0.44"/><circle cx="39.2" cy="7.9" r="0.51"/><circle cx="27.7" cy="21.6" r="0.39"/><circle cx="39.9" cy="14.0" r="0.53"/><circle cx="26.6" cy="13.7" r="0.62"/><circle cx="13.8" cy="17.7" r="0.37"/><circle cx="28.8" cy="19.2" r="0.65"/><circle cx="27.2" cy="17.4" r="0.56"/><circle cx="37.3" cy="27.5" r="0.40"/><circle cx="46.1" cy="14.8" r="0.52"/><circle cx="47.4" cy="22.7" r="0.53"/><circle cx="45.4" cy="17.0" r="0.45"/><circle cx="37.5" cy="12.5" r="0.48"/><circle cx="22.6" cy="19.7" r="0.48"/><circle cx="22.7" cy="18.9" r="0.37"/><circle cx="27.3" cy="22.1" r="0.49"/><circle cx="19.9" cy="14.4" r="0.52"/><circle cx="21.5" cy="35.9" r="0.35"/><circle cx="19.6" cy="23.7" r="0.48"/><circle cx="16.5" cy="24.1" r="0.56"/><circle cx="17.1" cy="20.4" r="0.53"/><circle cx="38.2" cy="5.8" r="0.38"/><circle cx="14.1" cy="12.9" r="0.63"/><circle cx="22.4" cy="32.4" r="0.49"/><circle cx="15.7" cy="26.4" r="0.38"/><circle cx="17.8" cy="14.5" r="0.64"/><circle cx="39.8" cy="25.2" r="0.37"/><circle cx="38.7" cy="5.6" r="0.57"/><circle cx="32.7" cy="4.7" r="0.68"/><circle cx="38.1" cy="23.1" r="0.35"/><circle cx="37.4" cy="17.8" r="0.59"/><circle cx="23.1" cy="28.8" r="0.48"/><circle cx="23.5" cy="18.4" r="0.39"/><circle cx="17.4" cy="28.2" r="0.38"/><circle cx="34.0" cy="22.1" r="0.39"/><circle cx="47.8" cy="22.5" r="0.67"/><circle cx="12.1" cy="17.7" r="0.54"/><circle cx="42.3" cy="8.1" r="0.66"/><circle cx="22.7" cy="16.5" r="0.59"/><circle cx="46.6" cy="20.3" r="0.59"/><circle cx="20.6" cy="29.7" r="0.39"/><circle cx="37.6" cy="9.5" r="0.56"/><circle cx="11.7" cy="15.4" r="0.41"/><circle cx="18.8" cy="23.5" r="0.53"/><circle cx="20.7" cy="23.0" r="0.64"/><circle cx="19.2" cy="23.3" r="0.52"/><circle cx="35.5" cy="11.7" r="0.44"/><circle cx="37.1" cy="23.0" r="0.44"/><circle cx="20.1" cy="27.6" r="0.50"/><circle cx="31.6" cy="22.5" r="0.69"/><circle cx="45.7" cy="19.0" r="0.52"/><circle cx="35.5" cy="22.7" r="0.54"/><circle cx="40.7" cy="7.2" r="0.62"/><circle cx="12.5" cy="10.6" r="0.54"/><circle cx="31.3" cy="8.0" r="0.62"/><circle cx="19.5" cy="35.4" r="0.60"/><circle cx="36.9" cy="12.7" r="0.44"/><circle cx="14.2" cy="13.7" r="0.44"/><circle cx="15.1" cy="13.4" r="0.45"/><circle cx="43.0" cy="24.1" r="0.54"/><circle cx="37.2" cy="21.6" r="0.58"/><circle cx="47.0" cy="16.0" r="0.63"/><circle cx="13.2" cy="18.9" r="0.48"/><circle cx="26.3" cy="22.7" r="0.47"/><circle cx="33.5" cy="6.4" r="0.67"/><circle cx="39.7" cy="21.2" r="0.38"/><circle cx="27.3" cy="10.1" r="0.53"/><circle cx="19.0" cy="20.5" r="0.42"/><circle cx="35.8" cy="17.8" r="0.52"/><circle cx="28.9" cy="8.5" r="0.46"/><circle cx="18.1" cy="27.2" r="0.68"/><circle cx="25.5" cy="23.5" r="0.59"/><circle cx="31.4" cy="24.2" r="0.68"/><circle cx="35.0" cy="21.2" r="0.55"/><circle cx="42.0" cy="17.5" r="0.47"/><circle cx="39.0" cy="12.7" r="0.55"/><circle cx="27.3" cy="15.1" r="0.59"/><circle cx="25.0" cy="29.9" r="0.47"/><circle cx="14.5" cy="21.3" r="0.44"/><circle cx="44.1" cy="10.1" r="0.43"/><circle cx="16.5" cy="14.9" r="0.60"/><circle cx="34.4" cy="30.1" r="0.54"/><circle cx="13.7" cy="11.2" r="0.50"/><circle cx="19.1" cy="34.1" r="0.70"/><circle cx="18.2" cy="30.1" r="0.48"/><circle cx="15.8" cy="23.6" r="0.61"/><circle cx="24.8" cy="31.0" r="0.35"/><circle cx="26.0" cy="16.6" r="0.37"/><circle cx="18.4" cy="34.7" r="0.40"/><circle cx="23.8" cy="16.3" r="0.39"/><circle cx="16.7" cy="10.0" r="0.39"/><circle cx="27.3" cy="21.8" r="0.55"/><circle cx="38.6" cy="21.4" r="0.68"/><circle cx="17.9" cy="22.8" r="0.45"/><circle cx="24.1" cy="23.9" r="0.65"/><circle cx="37.3" cy="11.0" r="0.36"/></g>
<g id="uwsp" fill="#fff" fill-opacity="0.55"><circle cx="26.0" cy="25.5" r="0.44"/><circle cx="14.5" cy="24.4" r="0.41"/><circle cx="24.7" cy="24.6" r="0.40"/><circle cx="19.1" cy="33.2" r="0.47"/><circle cx="22.0" cy="21.8" r="0.44"/><circle cx="18.0" cy="34.2" r="0.37"/><circle cx="15.9" cy="9.6" r="0.52"/><circle cx="35.0" cy="15.5" r="0.47"/><circle cx="26.7" cy="16.5" r="0.30"/><circle cx="29.6" cy="24.9" r="0.44"/><circle cx="25.1" cy="25.2" r="0.59"/><circle cx="15.4" cy="18.6" r="0.33"/><circle cx="40.4" cy="11.7" r="0.55"/><circle cx="40.3" cy="12.4" r="0.57"/><circle cx="26.2" cy="18.1" r="0.47"/><circle cx="47.4" cy="20.2" r="0.44"/><circle cx="26.1" cy="15.3" r="0.36"/><circle cx="40.3" cy="27.5" r="0.54"/><circle cx="40.5" cy="9.8" r="0.54"/><circle cx="16.6" cy="12.1" r="0.58"/><circle cx="18.5" cy="30.1" r="0.48"/><circle cx="32.9" cy="6.1" r="0.50"/><circle cx="43.8" cy="14.3" r="0.36"/><circle cx="35.3" cy="29.0" r="0.60"/><circle cx="31.9" cy="8.1" r="0.52"/><circle cx="43.9" cy="22.8" r="0.58"/><circle cx="32.7" cy="20.2" r="0.42"/><circle cx="39.2" cy="26.9" r="0.45"/><circle cx="17.2" cy="13.0" r="0.36"/><circle cx="33.1" cy="26.6" r="0.58"/><circle cx="45.8" cy="13.6" r="0.59"/><circle cx="39.2" cy="15.0" r="0.38"/><circle cx="27.1" cy="20.1" r="0.31"/><circle cx="43.4" cy="21.7" r="0.44"/><circle cx="37.7" cy="12.2" r="0.36"/><circle cx="29.9" cy="12.0" r="0.40"/><circle cx="19.1" cy="21.4" r="0.58"/><circle cx="32.7" cy="17.7" r="0.42"/><circle cx="13.3" cy="19.6" r="0.59"/><circle cx="34.9" cy="29.2" r="0.47"/><circle cx="45.3" cy="12.3" r="0.46"/><circle cx="28.5" cy="13.0" r="0.52"/><circle cx="36.9" cy="14.5" r="0.53"/><circle cx="33.1" cy="27.3" r="0.44"/><circle cx="35.3" cy="18.4" r="0.34"/><circle cx="22.4" cy="22.9" r="0.52"/><circle cx="21.3" cy="25.4" r="0.50"/><circle cx="31.6" cy="5.5" r="0.51"/><circle cx="25.4" cy="23.4" r="0.39"/><circle cx="16.6" cy="11.3" r="0.56"/><circle cx="26.4" cy="17.5" r="0.42"/><circle cx="44.6" cy="12.5" r="0.54"/><circle cx="36.0" cy="18.8" r="0.41"/><circle cx="23.0" cy="18.9" r="0.39"/><circle cx="31.9" cy="17.6" r="0.39"/><circle cx="39.1" cy="19.0" r="0.44"/><circle cx="44.2" cy="19.0" r="0.41"/><circle cx="39.7" cy="17.2" r="0.50"/><circle cx="37.6" cy="13.8" r="0.52"/><circle cx="34.1" cy="18.4" r="0.50"/><circle cx="18.4" cy="27.5" r="0.31"/><circle cx="22.0" cy="29.3" r="0.38"/><circle cx="31.4" cy="11.3" r="0.42"/><circle cx="30.0" cy="31.1" r="0.55"/><circle cx="20.8" cy="23.5" r="0.51"/><circle cx="38.6" cy="28.6" r="0.47"/><circle cx="28.9" cy="22.0" r="0.60"/><circle cx="17.6" cy="28.0" r="0.59"/><circle cx="15.2" cy="22.7" r="0.46"/><circle cx="33.8" cy="13.5" r="0.54"/><circle cx="31.1" cy="19.2" r="0.46"/><circle cx="47.8" cy="15.6" r="0.53"/><circle cx="35.2" cy="26.8" r="0.55"/><circle cx="20.2" cy="13.0" r="0.41"/><circle cx="20.0" cy="25.7" r="0.34"/><circle cx="37.5" cy="12.7" r="0.45"/><circle cx="35.4" cy="4.9" r="0.55"/><circle cx="43.3" cy="11.0" r="0.51"/><circle cx="35.6" cy="15.1" r="0.56"/><circle cx="17.1" cy="18.6" r="0.54"/><circle cx="29.4" cy="24.1" r="0.60"/><circle cx="12.7" cy="11.4" r="0.49"/><circle cx="18.4" cy="18.5" r="0.43"/><circle cx="34.5" cy="9.7" r="0.41"/><circle cx="35.9" cy="11.1" r="0.56"/><circle cx="43.9" cy="11.5" r="0.41"/><circle cx="28.1" cy="23.2" r="0.33"/><circle cx="35.5" cy="9.8" r="0.38"/><circle cx="34.0" cy="27.0" r="0.40"/><circle cx="28.9" cy="15.7" r="0.41"/><circle cx="13.9" cy="13.6" r="0.38"/><circle cx="30.4" cy="12.9" r="0.33"/><circle cx="42.6" cy="19.5" r="0.45"/><circle cx="38.2" cy="24.5" r="0.50"/><circle cx="35.2" cy="20.5" r="0.42"/><circle cx="20.7" cy="20.6" r="0.44"/><circle cx="27.4" cy="21.6" r="0.54"/><circle cx="44.8" cy="11.4" r="0.31"/><circle cx="40.2" cy="24.5" r="0.39"/><circle cx="42.1" cy="26.6" r="0.51"/><circle cx="37.7" cy="19.0" r="0.42"/><circle cx="28.1" cy="21.0" r="0.39"/><circle cx="43.4" cy="21.1" r="0.60"/><circle cx="20.7" cy="25.1" r="0.33"/><circle cx="22.9" cy="29.2" r="0.48"/><circle cx="30.0" cy="9.7" r="0.44"/><circle cx="28.1" cy="15.1" r="0.47"/><circle cx="32.3" cy="4.6" r="0.37"/><circle cx="33.5" cy="11.1" r="0.32"/><circle cx="38.6" cy="15.0" r="0.59"/><circle cx="32.6" cy="12.7" r="0.54"/><circle cx="36.8" cy="29.0" r="0.32"/><circle cx="17.4" cy="12.6" r="0.55"/><circle cx="20.4" cy="31.2" r="0.38"/><circle cx="36.3" cy="10.1" r="0.45"/><circle cx="34.4" cy="6.2" r="0.36"/><circle cx="13.4" cy="13.6" r="0.55"/><circle cx="34.1" cy="24.7" r="0.41"/><circle cx="36.4" cy="20.3" r="0.32"/><circle cx="25.6" cy="16.7" r="0.46"/><circle cx="26.0" cy="29.3" r="0.47"/><circle cx="13.5" cy="10.3" r="0.52"/><circle cx="24.5" cy="31.9" r="0.49"/><circle cx="37.8" cy="29.1" r="0.52"/><circle cx="44.1" cy="16.6" r="0.33"/><circle cx="15.8" cy="10.3" r="0.33"/><circle cx="27.7" cy="16.4" r="0.34"/><circle cx="29.3" cy="20.8" r="0.42"/><circle cx="31.5" cy="10.4" r="0.40"/><circle cx="30.2" cy="16.9" r="0.46"/><circle cx="20.4" cy="27.4" r="0.41"/><circle cx="16.1" cy="28.8" r="0.54"/><circle cx="19.4" cy="24.0" r="0.59"/><circle cx="45.1" cy="23.0" r="0.57"/><circle cx="29.1" cy="8.3" r="0.53"/><circle cx="15.4" cy="14.7" r="0.48"/><circle cx="14.6" cy="16.1" r="0.51"/><circle cx="17.8" cy="13.1" r="0.60"/><circle cx="32.6" cy="6.2" r="0.51"/><circle cx="13.2" cy="19.9" r="0.52"/><circle cx="21.1" cy="14.3" r="0.52"/><circle cx="24.2" cy="26.6" r="0.35"/><circle cx="37.1" cy="22.9" r="0.50"/><circle cx="24.1" cy="31.2" r="0.51"/><circle cx="32.8" cy="4.8" r="0.37"/><circle cx="41.6" cy="15.4" r="0.34"/><circle cx="34.2" cy="28.0" r="0.57"/><circle cx="28.6" cy="23.2" r="0.56"/><circle cx="32.4" cy="19.5" r="0.30"/><circle cx="30.9" cy="20.8" r="0.45"/><circle cx="31.1" cy="26.5" r="0.60"/><circle cx="40.1" cy="13.6" r="0.44"/><circle cx="26.3" cy="30.5" r="0.42"/><circle cx="46.2" cy="20.0" r="0.42"/><circle cx="34.5" cy="9.0" r="0.34"/><circle cx="22.3" cy="23.9" r="0.53"/><circle cx="19.7" cy="33.3" r="0.36"/><circle cx="38.0" cy="6.1" r="0.50"/><circle cx="31.0" cy="5.7" r="0.58"/><circle cx="39.5" cy="7.6" r="0.31"/></g>
<filter id="ublur" x="-10%" y="-10%" width="120%" height="120%"><feGaussianBlur stdDeviation="0.45"/></filter>
</defs>
<text x="14.0" y="326.00" font-size="9.0" text-anchor="middle" fill="#1e1e1e" textLength="15.6" lengthAdjust="spacingAndGlyphs" transform="rotate(-90 14.0 326.00)" stroke="#1e1e1e">Veh</text>
<text x="58.45" y="295.72" font-size="8.4" text-anchor="middle" fill="#1e1e1e" font-weight="normal" stroke="#1e1e1e" textLength="13.9" lengthAdjust="spacingAndGlyphs">Hk1</text>
<text x="25.70" y="326.00" font-size="8.2" text-anchor="middle" fill="#1e1e1e" textLength="22" lengthAdjust="spacingAndGlyphs" transform="rotate(-90 25.70 326.00)" stroke="#1e1e1e">UMAP2</text>
<text x="58.50" y="361.42" font-size="8.4" text-anchor="middle" fill="#1e1e1e" font-weight="normal" stroke="#1e1e1e" textLength="21.5" lengthAdjust="spacingAndGlyphs">UMAP1</text>
<rect x="31.60" y="301.50" width="50.40" height="49.00" fill="#fff" stroke="#b8b8b8" stroke-width="0.8"/>
<defs><radialGradient id="g00" cx="46" cy="19" r="24" gradientUnits="userSpaceOnUse"><stop offset="0" stop-color="#e7907f"/><stop offset="0.45" stop-color="#ebb5aa"/><stop offset="1" stop-color="#edc9c2"/></radialGradient></defs>
<defs><radialGradient id="dg00" cx="44" cy="20" r="26" gradientUnits="userSpaceOnUse"><stop offset="0" stop-color="#d9756a"/><stop offset="0.5" stop-color="#e2a29b"/><stop offset="1" stop-color="#e6b5af"/></radialGradient></defs>
<g transform="translate(31.60 301.50) scale(1.008 1)"><g filter="url(#ublur)">
<use href="#uarm" fill="#edcec8"/>
<use href="#ulobe" fill="#ecbdb3"/>
<use href="#urlobe" fill="url(#g00)" fill-opacity="0.85"/>
<use href="#usp" fill="url(#g00)"/>
<use href="#udsp" fill="url(#dg00)"/>
<use href="#uwsp"/>
<ellipse cx="35.6" cy="35.4" rx="1.2" ry="1.4" fill="#edcec8"/>
<circle cx="21" cy="9.8" r="1.2" fill="#eed9d4"/><circle cx="28" cy="10.5" r="1.1" fill="#eed9d4"/>
<ellipse cx="27" cy="42.6" rx="3.2" ry="1.2" fill="#eee6e4"/>
</g></g>
<rect x="83.10" y="301.50" width="2.30" height="49.00" fill="url(#ucb)"/>
<text x="89.40" y="352.82" font-size="7.0" text-anchor="start" fill="#222" font-weight="normal" stroke="#222" textLength="8.8" lengthAdjust="spacingAndGlyphs">0.0</text>
<text x="89.40" y="342.82" font-size="7.0" text-anchor="start" fill="#222" font-weight="normal" stroke="#222" textLength="8.8" lengthAdjust="spacingAndGlyphs">0.5</text>
<text x="89.40" y="332.82" font-size="7.0" text-anchor="start" fill="#222" font-weight="normal" stroke="#222" textLength="8.8" lengthAdjust="spacingAndGlyphs">1.0</text>
<text x="89.40" y="322.82" font-size="7.0" text-anchor="start" fill="#222" font-weight="normal" stroke="#222" textLength="8.8" lengthAdjust="spacingAndGlyphs">1.5</text>
<text x="89.40" y="312.82" font-size="7.0" text-anchor="start" fill="#222" font-weight="normal" stroke="#222" textLength="8.8" lengthAdjust="spacingAndGlyphs">2.0</text>
<text x="146.70" y="295.72" font-size="8.4" text-anchor="middle" fill="#1e1e1e" font-weight="normal" stroke="#1e1e1e" textLength="14.2" lengthAdjust="spacingAndGlyphs">Hk2</text>
<text x="113.80" y="326.00" font-size="8.2" text-anchor="middle" fill="#1e1e1e" textLength="22" lengthAdjust="spacingAndGlyphs" transform="rotate(-90 113.80 326.00)" stroke="#1e1e1e">UMAP2</text>
<text x="146.60" y="361.42" font-size="8.4" text-anchor="middle" fill="#1e1e1e" font-weight="normal" stroke="#1e1e1e" textLength="21.5" lengthAdjust="spacingAndGlyphs">UMAP1</text>
<rect x="119.70" y="301.50" width="50.40" height="49.00" fill="#fff" stroke="#b8b8b8" stroke-width="0.8"/>
<defs><radialGradient id="g01" cx="46" cy="19" r="24" gradientUnits="userSpaceOnUse"><stop offset="0" stop-color="#eaaa9d"/><stop offset="0.45" stop-color="#edc6be"/><stop offset="1" stop-color="#eed2cc"/></radialGradient></defs>
<defs><radialGradient id="dg01" cx="44" cy="20" r="26" gradientUnits="userSpaceOnUse"><stop offset="0" stop-color="#e0968e"/><stop offset="0.5" stop-color="#e7b9b4"/><stop offset="1" stop-color="#e9c3be"/></radialGradient></defs>
<g transform="translate(119.70 301.50) scale(1.008 1)"><g filter="url(#ublur)">
<use href="#uarm" fill="#eed6d0"/>
<use href="#ulobe" fill="#edc9c1"/>
<use href="#urlobe" fill="url(#g01)" fill-opacity="0.85"/>
<use href="#usp" fill="url(#g01)"/>
<use href="#udsp" fill="url(#dg01)"/>
<use href="#uwsp"/>
<ellipse cx="35.6" cy="35.4" rx="1.2" ry="1.4" fill="#eed6d0"/>
<circle cx="21" cy="9.8" r="1.2" fill="#efddd9"/><circle cx="28" cy="10.5" r="1.1" fill="#efddd9"/>
<ellipse cx="27" cy="42.6" rx="3.2" ry="1.2" fill="#eee6e4"/>
</g></g>
<rect x="171.20" y="301.50" width="2.30" height="49.00" fill="url(#ucb)"/>
<text x="177.50" y="352.82" font-size="7.0" text-anchor="start" fill="#222" font-weight="normal" stroke="#222" textLength="8.8" lengthAdjust="spacingAndGlyphs">0.0</text>
<text x="177.50" y="342.82" font-size="7.0" text-anchor="start" fill="#222" font-weight="normal" stroke="#222" textLength="8.8" lengthAdjust="spacingAndGlyphs">0.5</text>
<text x="177.50" y="332.82" font-size="7.0" text-anchor="start" fill="#222" font-weight="normal" stroke="#222" textLength="8.8" lengthAdjust="spacingAndGlyphs">1.0</text>
<text x="177.50" y="322.82" font-size="7.0" text-anchor="start" fill="#222" font-weight="normal" stroke="#222" textLength="8.8" lengthAdjust="spacingAndGlyphs">1.5</text>
<text x="177.50" y="312.82" font-size="7.0" text-anchor="start" fill="#222" font-weight="normal" stroke="#222" textLength="8.8" lengthAdjust="spacingAndGlyphs">2.0</text>
<text x="234.25" y="295.72" font-size="8.4" text-anchor="middle" fill="#1e1e1e" font-weight="normal" stroke="#1e1e1e" textLength="17.7" lengthAdjust="spacingAndGlyphs">Pdk1</text>
<text x="201.60" y="326.00" font-size="8.2" text-anchor="middle" fill="#1e1e1e" textLength="22" lengthAdjust="spacingAndGlyphs" transform="rotate(-90 201.60 326.00)" stroke="#1e1e1e">UMAP2</text>
<text x="234.40" y="361.42" font-size="8.4" text-anchor="middle" fill="#1e1e1e" font-weight="normal" stroke="#1e1e1e" textLength="21.5" lengthAdjust="spacingAndGlyphs">UMAP1</text>
<rect x="207.50" y="301.50" width="50.40" height="49.00" fill="#fff" stroke="#b8b8b8" stroke-width="0.8"/>
<defs><radialGradient id="g02" cx="46" cy="19" r="24" gradientUnits="userSpaceOnUse"><stop offset="0" stop-color="#e89a8b"/><stop offset="0.45" stop-color="#ecc0b8"/><stop offset="1" stop-color="#edcec8"/></radialGradient></defs>
<defs><radialGradient id="dg02" cx="44" cy="20" r="26" gradientUnits="userSpaceOnUse"><stop offset="0" stop-color="#dc8278"/><stop offset="0.5" stop-color="#e5b1ab"/><stop offset="1" stop-color="#e8beb8"/></radialGradient></defs>
<g transform="translate(207.50 301.50) scale(1.008 1)"><g filter="url(#ublur)">
<use href="#uarm" fill="#eed3cd"/>
<use href="#ulobe" fill="#ecc4bc"/>
<use href="#urlobe" fill="url(#g02)" fill-opacity="0.85"/>
<use href="#usp" fill="url(#g02)"/>
<use href="#udsp" fill="url(#dg02)"/>
<use href="#uwsp"/>
<ellipse cx="35.6" cy="35.4" rx="1.2" ry="1.4" fill="#eed3cd"/>
<circle cx="21" cy="9.8" r="1.2" fill="#efdbd7"/><circle cx="28" cy="10.5" r="1.1" fill="#efdbd7"/>
<ellipse cx="27" cy="42.6" rx="3.2" ry="1.2" fill="#eee6e4"/>
</g></g>
<rect x="259.00" y="301.50" width="2.30" height="49.00" fill="url(#ucb)"/>
<text x="265.30" y="352.82" font-size="7.0" text-anchor="start" fill="#222" font-weight="normal" stroke="#222" textLength="8.8" lengthAdjust="spacingAndGlyphs">0.0</text>
<text x="265.30" y="342.82" font-size="7.0" text-anchor="start" fill="#222" font-weight="normal" stroke="#222" textLength="8.8" lengthAdjust="spacingAndGlyphs">0.5</text>
<text x="265.30" y="332.82" font-size="7.0" text-anchor="start" fill="#222" font-weight="normal" stroke="#222" textLength="8.8" lengthAdjust="spacingAndGlyphs">1.0</text>
<text x="265.30" y="322.82" font-size="7.0" text-anchor="start" fill="#222" font-weight="normal" stroke="#222" textLength="8.8" lengthAdjust="spacingAndGlyphs">1.5</text>
<text x="265.30" y="312.82" font-size="7.0" text-anchor="start" fill="#222" font-weight="normal" stroke="#222" textLength="8.8" lengthAdjust="spacingAndGlyphs">2.0</text>
<text x="322.90" y="295.72" font-size="8.4" text-anchor="middle" fill="#1e1e1e" font-weight="normal" stroke="#1e1e1e" textLength="24.2" lengthAdjust="spacingAndGlyphs">Slc2a3</text>
<text x="289.60" y="326.00" font-size="8.2" text-anchor="middle" fill="#1e1e1e" textLength="22" lengthAdjust="spacingAndGlyphs" transform="rotate(-90 289.60 326.00)" stroke="#1e1e1e">UMAP2</text>
<text x="322.40" y="361.42" font-size="8.4" text-anchor="middle" fill="#1e1e1e" font-weight="normal" stroke="#1e1e1e" textLength="21.5" lengthAdjust="spacingAndGlyphs">UMAP1</text>
<rect x="295.50" y="301.50" width="50.40" height="49.00" fill="#fff" stroke="#b8b8b8" stroke-width="0.8"/>
<defs><radialGradient id="g03" cx="46" cy="19" r="24" gradientUnits="userSpaceOnUse"><stop offset="0" stop-color="#e3a498"/><stop offset="0.45" stop-color="#e4d0cd"/><stop offset="1" stop-color="#e4dbda"/></radialGradient></defs>
<defs><radialGradient id="dg03" cx="44" cy="20" r="26" gradientUnits="userSpaceOnUse"><stop offset="0" stop-color="#d99089"/><stop offset="0.5" stop-color="#e1cac8"/><stop offset="1" stop-color="#e3d8d7"/></radialGradient></defs>
<g transform="translate(295.50 301.50) scale(1.008 1)"><g filter="url(#ublur)">
<use href="#uarm" fill="#e4dcdb"/>
<use href="#ulobe" fill="#e4d9d8"/>
<use href="#urlobe" fill="url(#g03)" fill-opacity="0.85"/>
<use href="#usp" fill="url(#g03)"/>
<use href="#udsp" fill="url(#dg03)"/>
<use href="#uwsp"/>
<ellipse cx="35.6" cy="35.4" rx="1.2" ry="1.4" fill="#e4dcdb"/>
<circle cx="21" cy="9.8" r="1.2" fill="#e4dedd"/><circle cx="28" cy="10.5" r="1.1" fill="#e4dedd"/>
<ellipse cx="27" cy="42.6" rx="3.2" ry="1.2" fill="#eee6e4"/>
</g></g>
<rect x="347.00" y="301.50" width="2.30" height="49.00" fill="url(#ucb)"/>
<text x="353.30" y="352.82" font-size="7.0" text-anchor="start" fill="#222" font-weight="normal" stroke="#222" textLength="8.8" lengthAdjust="spacingAndGlyphs">0.0</text>
<text x="353.30" y="343.16" font-size="7.0" text-anchor="start" fill="#222" font-weight="normal" stroke="#222" textLength="8.8" lengthAdjust="spacingAndGlyphs">0.5</text>
<text x="353.30" y="333.50" font-size="7.0" text-anchor="start" fill="#222" font-weight="normal" stroke="#222" textLength="8.8" lengthAdjust="spacingAndGlyphs">1.0</text>
<text x="353.30" y="323.84" font-size="7.0" text-anchor="start" fill="#222" font-weight="normal" stroke="#222" textLength="8.8" lengthAdjust="spacingAndGlyphs">1.5</text>
<text x="353.30" y="314.18" font-size="7.0" text-anchor="start" fill="#222" font-weight="normal" stroke="#222" textLength="8.8" lengthAdjust="spacingAndGlyphs">2.0</text>
<text x="353.30" y="304.52" font-size="7.0" text-anchor="start" fill="#222" font-weight="normal" stroke="#222" textLength="8.8" lengthAdjust="spacingAndGlyphs">2.5</text>
<text x="14.0" y="395.10" font-size="9.0" text-anchor="middle" fill="#1e1e1e" textLength="24.0" lengthAdjust="spacingAndGlyphs" transform="rotate(-90 14.0 395.10)" stroke="#1e1e1e">Nil 2d</text>
<text x="25.70" y="395.10" font-size="8.2" text-anchor="middle" fill="#1e1e1e" textLength="22" lengthAdjust="spacingAndGlyphs" transform="rotate(-90 25.70 395.10)" stroke="#1e1e1e">UMAP2</text>
<text x="58.50" y="429.92" font-size="8.4" text-anchor="middle" fill="#1e1e1e" font-weight="normal" stroke="#1e1e1e" textLength="21.5" lengthAdjust="spacingAndGlyphs">UMAP1</text>
<rect x="31.60" y="370.60" width="50.40" height="49.00" fill="#fff" stroke="#b8b8b8" stroke-width="0.8"/>
<defs><radialGradient id="g10" cx="46" cy="19" r="24" gradientUnits="userSpaceOnUse"><stop offset="0" stop-color="#e46f59"/><stop offset="0.45" stop-color="#ebb8ae"/><stop offset="1" stop-color="#eed5d0"/></radialGradient></defs>
<defs><radialGradient id="dg10" cx="44" cy="20" r="26" gradientUnits="userSpaceOnUse"><stop offset="0" stop-color="#d14a3c"/><stop offset="0.5" stop-color="#e3a69f"/><stop offset="1" stop-color="#eac9c5"/></radialGradient></defs>
<g transform="translate(31.60 370.60) scale(1.008 1)"><g filter="url(#ublur)">
<use href="#uarm" fill="#eed8d4"/>
<use href="#ulobe" fill="#edcdc7"/>
<use href="#urlobe" fill="url(#g10)" fill-opacity="0.85"/>
<use href="#usp" fill="url(#g10)"/>
<use href="#udsp" fill="url(#dg10)"/>
<use href="#uwsp"/>
<ellipse cx="35.6" cy="35.4" rx="1.2" ry="1.4" fill="#eed8d4"/>
<circle cx="21" cy="9.8" r="1.2" fill="#efdfdb"/><circle cx="28" cy="10.5" r="1.1" fill="#efdfdb"/>
<ellipse cx="27" cy="42.6" rx="3.2" ry="1.2" fill="#eee6e4"/>
</g></g>
<rect x="83.10" y="370.60" width="2.30" height="49.00" fill="url(#ucb)"/>
<text x="89.40" y="421.92" font-size="7.0" text-anchor="start" fill="#222" font-weight="normal" stroke="#222" textLength="8.8" lengthAdjust="spacingAndGlyphs">0.0</text>
<text x="89.40" y="411.96" font-size="7.0" text-anchor="start" fill="#222" font-weight="normal" stroke="#222" textLength="8.8" lengthAdjust="spacingAndGlyphs">0.5</text>
<text x="89.40" y="402.00" font-size="7.0" text-anchor="start" fill="#222" font-weight="normal" stroke="#222" textLength="8.8" lengthAdjust="spacingAndGlyphs">1.0</text>
<text x="89.40" y="392.04" font-size="7.0" text-anchor="start" fill="#222" font-weight="normal" stroke="#222" textLength="8.8" lengthAdjust="spacingAndGlyphs">1.5</text>
<text x="89.40" y="382.08" font-size="7.0" text-anchor="start" fill="#222" font-weight="normal" stroke="#222" textLength="8.8" lengthAdjust="spacingAndGlyphs">2.0</text>
<text x="89.40" y="372.12" font-size="7.0" text-anchor="start" fill="#222" font-weight="normal" stroke="#222" textLength="8.8" lengthAdjust="spacingAndGlyphs">2.5</text>
<text x="113.80" y="395.10" font-size="8.2" text-anchor="middle" fill="#1e1e1e" textLength="22" lengthAdjust="spacingAndGlyphs" transform="rotate(-90 113.80 395.10)" stroke="#1e1e1e">UMAP2</text>
<text x="146.60" y="429.92" font-size="8.4" text-anchor="middle" fill="#1e1e1e" font-weight="normal" stroke="#1e1e1e" textLength="21.5" lengthAdjust="spacingAndGlyphs">UMAP1</text>
<rect x="119.70" y="370.60" width="50.40" height="49.00" fill="#fff" stroke="#b8b8b8" stroke-width="0.8"/>
<defs><radialGradient id="g11" cx="46" cy="19" r="24" gradientUnits="userSpaceOnUse"><stop offset="0" stop-color="#e9a193"/><stop offset="0.45" stop-color="#efdad5"/><stop offset="1" stop-color="#efe3e0"/></radialGradient></defs>
<defs><radialGradient id="dg11" cx="44" cy="20" r="26" gradientUnits="userSpaceOnUse"><stop offset="0" stop-color="#de8b82"/><stop offset="0.5" stop-color="#ecd5d1"/><stop offset="1" stop-color="#eee0dd"/></radialGradient></defs>
<g transform="translate(119.70 370.60) scale(1.008 1)"><g filter="url(#ublur)">
<use href="#uarm" fill="#f0e4e1"/>
<use href="#ulobe" fill="#efe1de"/>
<use href="#urlobe" fill="url(#g11)" fill-opacity="0.85"/>
<use href="#usp" fill="url(#g11)"/>
<use href="#udsp" fill="url(#dg11)"/>
<use href="#uwsp"/>
<ellipse cx="35.6" cy="35.4" rx="1.2" ry="1.4" fill="#f0e4e1"/>
<circle cx="21" cy="9.8" r="1.2" fill="#f0e5e3"/><circle cx="28" cy="10.5" r="1.1" fill="#f0e5e3"/>
<ellipse cx="27" cy="42.6" rx="3.2" ry="1.2" fill="#eee6e4"/>
</g></g>
<rect x="171.20" y="370.60" width="2.30" height="49.00" fill="url(#ucb)"/>
<text x="177.50" y="421.92" font-size="7.0" text-anchor="start" fill="#222" font-weight="normal" stroke="#222" textLength="8.8" lengthAdjust="spacingAndGlyphs">0.0</text>
<text x="177.50" y="414.10" font-size="7.0" text-anchor="start" fill="#222" font-weight="normal" stroke="#222" textLength="8.8" lengthAdjust="spacingAndGlyphs">0.5</text>
<text x="177.50" y="406.29" font-size="7.0" text-anchor="start" fill="#222" font-weight="normal" stroke="#222" textLength="8.8" lengthAdjust="spacingAndGlyphs">1.0</text>
<text x="177.50" y="398.47" font-size="7.0" text-anchor="start" fill="#222" font-weight="normal" stroke="#222" textLength="8.8" lengthAdjust="spacingAndGlyphs">1.5</text>
<text x="177.50" y="390.65" font-size="7.0" text-anchor="start" fill="#222" font-weight="normal" stroke="#222" textLength="8.8" lengthAdjust="spacingAndGlyphs">2.0</text>
<text x="177.50" y="382.84" font-size="7.0" text-anchor="start" fill="#222" font-weight="normal" stroke="#222" textLength="8.8" lengthAdjust="spacingAndGlyphs">2.5</text>
<text x="177.50" y="375.02" font-size="7.0" text-anchor="start" fill="#222" font-weight="normal" stroke="#222" textLength="8.8" lengthAdjust="spacingAndGlyphs">3.0</text>
<text x="201.60" y="395.10" font-size="8.2" text-anchor="middle" fill="#1e1e1e" textLength="22" lengthAdjust="spacingAndGlyphs" transform="rotate(-90 201.60 395.10)" stroke="#1e1e1e">UMAP2</text>
<text x="234.40" y="429.92" font-size="8.4" text-anchor="middle" fill="#1e1e1e" font-weight="normal" stroke="#1e1e1e" textLength="21.5" lengthAdjust="spacingAndGlyphs">UMAP1</text>
<rect x="207.50" y="370.60" width="50.40" height="49.00" fill="#fff" stroke="#b8b8b8" stroke-width="0.8"/>
<defs><radialGradient id="g12" cx="46" cy="19" r="24" gradientUnits="userSpaceOnUse"><stop offset="0" stop-color="#e67e6a"/><stop offset="0.45" stop-color="#ecbbb1"/><stop offset="1" stop-color="#eed7d2"/></radialGradient></defs>
<defs><radialGradient id="dg12" cx="44" cy="20" r="26" gradientUnits="userSpaceOnUse"><stop offset="0" stop-color="#d45d50"/><stop offset="0.5" stop-color="#e4aaa3"/><stop offset="1" stop-color="#eaccc8"/></radialGradient></defs>
<g transform="translate(207.50 370.60) scale(1.008 1)"><g filter="url(#ublur)">
<use href="#uarm" fill="#efdad5"/>
<use href="#ulobe" fill="#eed0ca"/>
<use href="#urlobe" fill="url(#g12)" fill-opacity="0.85"/>
<use href="#usp" fill="url(#g12)"/>
<use href="#udsp" fill="url(#dg12)"/>
<use href="#uwsp"/>
<ellipse cx="35.6" cy="35.4" rx="1.2" ry="1.4" fill="#efdad5"/>
<circle cx="21" cy="9.8" r="1.2" fill="#efdfdc"/><circle cx="28" cy="10.5" r="1.1" fill="#efdfdc"/>
<ellipse cx="27" cy="42.6" rx="3.2" ry="1.2" fill="#eee6e4"/>
</g></g>
<rect x="259.00" y="370.60" width="2.30" height="49.00" fill="url(#ucb)"/>
<text x="265.30" y="421.92" font-size="7.0" text-anchor="start" fill="#222" font-weight="normal" stroke="#222" textLength="8.8" lengthAdjust="spacingAndGlyphs">0.0</text>
<text x="265.30" y="410.92" font-size="7.0" text-anchor="start" fill="#222" font-weight="normal" stroke="#222" textLength="8.8" lengthAdjust="spacingAndGlyphs">0.5</text>
<text x="265.30" y="399.92" font-size="7.0" text-anchor="start" fill="#222" font-weight="normal" stroke="#222" textLength="8.8" lengthAdjust="spacingAndGlyphs">1.0</text>
<text x="265.30" y="388.92" font-size="7.0" text-anchor="start" fill="#222" font-weight="normal" stroke="#222" textLength="8.8" lengthAdjust="spacingAndGlyphs">1.5</text>
<text x="265.30" y="377.92" font-size="7.0" text-anchor="start" fill="#222" font-weight="normal" stroke="#222" textLength="8.8" lengthAdjust="spacingAndGlyphs">2.0</text>
<text x="289.60" y="395.10" font-size="8.2" text-anchor="middle" fill="#1e1e1e" textLength="22" lengthAdjust="spacingAndGlyphs" transform="rotate(-90 289.60 395.10)" stroke="#1e1e1e">UMAP2</text>
<text x="322.40" y="429.92" font-size="8.4" text-anchor="middle" fill="#1e1e1e" font-weight="normal" stroke="#1e1e1e" textLength="21.5" lengthAdjust="spacingAndGlyphs">UMAP1</text>
<rect x="295.50" y="370.60" width="50.40" height="49.00" fill="#fff" stroke="#b8b8b8" stroke-width="0.8"/>
<defs><radialGradient id="g13" cx="46" cy="19" r="24" gradientUnits="userSpaceOnUse"><stop offset="0" stop-color="#e39080"/><stop offset="0.45" stop-color="#e4c5c0"/><stop offset="1" stop-color="#e4dad8"/></radialGradient></defs>
<defs><radialGradient id="dg13" cx="44" cy="20" r="26" gradientUnits="userSpaceOnUse"><stop offset="0" stop-color="#d6766c"/><stop offset="0.5" stop-color="#dfbbb8"/><stop offset="1" stop-color="#e3d5d4"/></radialGradient></defs>
<g transform="translate(295.50 370.60) scale(1.008 1)"><g filter="url(#ublur)">
<use href="#uarm" fill="#e4dbda"/>
<use href="#ulobe" fill="#e4d7d5"/>
<use href="#urlobe" fill="url(#g13)" fill-opacity="0.85"/>
<use href="#usp" fill="url(#g13)"/>
<use href="#udsp" fill="url(#dg13)"/>
<use href="#uwsp"/>
<ellipse cx="35.6" cy="35.4" rx="1.2" ry="1.4" fill="#e4dbda"/>
<circle cx="21" cy="9.8" r="1.2" fill="#e4dddc"/><circle cx="28" cy="10.5" r="1.1" fill="#e4dddc"/>
<ellipse cx="27" cy="42.6" rx="3.2" ry="1.2" fill="#eee6e4"/>
</g></g>
<rect x="347.00" y="370.60" width="2.30" height="49.00" fill="url(#ucb)"/>
<text x="353.30" y="421.92" font-size="7.0" text-anchor="start" fill="#222" font-weight="normal" stroke="#222" textLength="8.8" lengthAdjust="spacingAndGlyphs">0.0</text>
<text x="353.30" y="410.52" font-size="7.0" text-anchor="start" fill="#222" font-weight="normal" stroke="#222" textLength="8.8" lengthAdjust="spacingAndGlyphs">0.5</text>
<text x="353.30" y="399.12" font-size="7.0" text-anchor="start" fill="#222" font-weight="normal" stroke="#222" textLength="8.8" lengthAdjust="spacingAndGlyphs">1.0</text>
<text x="353.30" y="387.72" font-size="7.0" text-anchor="start" fill="#222" font-weight="normal" stroke="#222" textLength="8.8" lengthAdjust="spacingAndGlyphs">1.5</text>
<text x="353.30" y="376.32" font-size="7.0" text-anchor="start" fill="#222" font-weight="normal" stroke="#222" textLength="8.8" lengthAdjust="spacingAndGlyphs">2.0</text>
<text x="14.0" y="461.70" font-size="9.0" text-anchor="middle" fill="#1e1e1e" textLength="25.5" lengthAdjust="spacingAndGlyphs" transform="rotate(-90 14.0 461.70)" stroke="#1e1e1e">Nil 2w</text>
<text x="25.70" y="461.70" font-size="8.2" text-anchor="middle" fill="#1e1e1e" textLength="22" lengthAdjust="spacingAndGlyphs" transform="rotate(-90 25.70 461.70)" stroke="#1e1e1e">UMAP2</text>
<text x="58.50" y="496.52" font-size="8.4" text-anchor="middle" fill="#1e1e1e" font-weight="normal" stroke="#1e1e1e" textLength="21.5" lengthAdjust="spacingAndGlyphs">UMAP1</text>
<rect x="31.60" y="437.20" width="50.40" height="49.00" fill="#fff" stroke="#b8b8b8" stroke-width="0.8"/>
<defs><radialGradient id="g20" cx="46" cy="19" r="24" gradientUnits="userSpaceOnUse"><stop offset="0" stop-color="#e46b54"/><stop offset="0.45" stop-color="#e9a193"/><stop offset="1" stop-color="#ecc4bc"/></radialGradient></defs>
<defs><radialGradient id="dg20" cx="44" cy="20" r="26" gradientUnits="userSpaceOnUse"><stop offset="0" stop-color="#d04436"/><stop offset="0.5" stop-color="#dd877d"/><stop offset="1" stop-color="#e4ada6"/></radialGradient></defs>
<g transform="translate(31.60 437.20) scale(1.008 1)"><g filter="url(#ublur)">
<use href="#uarm" fill="#edcac3"/>
<use href="#ulobe" fill="#ebb5ab"/>
<use href="#urlobe" fill="url(#g20)" fill-opacity="0.85"/>
<use href="#usp" fill="url(#g20)"/>
<use href="#udsp" fill="url(#dg20)"/>
<use href="#uwsp"/>
<ellipse cx="35.6" cy="35.4" rx="1.2" ry="1.4" fill="#edcac3"/>
<circle cx="21" cy="9.8" r="1.2" fill="#eed6d1"/><circle cx="28" cy="10.5" r="1.1" fill="#eed6d1"/>
<ellipse cx="27" cy="42.6" rx="3.2" ry="1.2" fill="#eee6e4"/>
</g></g>
<rect x="83.10" y="437.20" width="2.30" height="49.00" fill="url(#ucb)"/>
<text x="89.40" y="488.32" font-size="7.0" text-anchor="start" fill="#222" font-weight="normal" stroke="#222" textLength="8.8" lengthAdjust="spacingAndGlyphs">0.0</text>
<text x="89.40" y="477.47" font-size="7.0" text-anchor="start" fill="#222" font-weight="normal" stroke="#222" textLength="8.8" lengthAdjust="spacingAndGlyphs">0.5</text>
<text x="89.40" y="466.62" font-size="7.0" text-anchor="start" fill="#222" font-weight="normal" stroke="#222" textLength="8.8" lengthAdjust="spacingAndGlyphs">1.0</text>
<text x="89.40" y="455.77" font-size="7.0" text-anchor="start" fill="#222" font-weight="normal" stroke="#222" textLength="8.8" lengthAdjust="spacingAndGlyphs">1.5</text>
<text x="89.40" y="444.92" font-size="7.0" text-anchor="start" fill="#222" font-weight="normal" stroke="#222" textLength="8.8" lengthAdjust="spacingAndGlyphs">2.0</text>
<text x="113.80" y="461.70" font-size="8.2" text-anchor="middle" fill="#1e1e1e" textLength="22" lengthAdjust="spacingAndGlyphs" transform="rotate(-90 113.80 461.70)" stroke="#1e1e1e">UMAP2</text>
<text x="146.60" y="496.52" font-size="8.4" text-anchor="middle" fill="#1e1e1e" font-weight="normal" stroke="#1e1e1e" textLength="21.5" lengthAdjust="spacingAndGlyphs">UMAP1</text>
<rect x="119.70" y="437.20" width="50.40" height="49.00" fill="#fff" stroke="#b8b8b8" stroke-width="0.8"/>
<defs><radialGradient id="g21" cx="46" cy="19" r="24" gradientUnits="userSpaceOnUse"><stop offset="0" stop-color="#e7907f"/><stop offset="0.45" stop-color="#ecc0b8"/><stop offset="1" stop-color="#eed9d4"/></radialGradient></defs>
<defs><radialGradient id="dg21" cx="44" cy="20" r="26" gradientUnits="userSpaceOnUse"><stop offset="0" stop-color="#d9756a"/><stop offset="0.5" stop-color="#e5b1ab"/><stop offset="1" stop-color="#ebcfcb"/></radialGradient></defs>
<g transform="translate(119.70 437.20) scale(1.008 1)"><g filter="url(#ublur)">
<use href="#uarm" fill="#efdbd7"/>
<use href="#ulobe" fill="#eed2cd"/>
<use href="#urlobe" fill="url(#g21)" fill-opacity="0.85"/>
<use href="#usp" fill="url(#g21)"/>
<use href="#udsp" fill="url(#dg21)"/>
<use href="#uwsp"/>
<ellipse cx="35.6" cy="35.4" rx="1.2" ry="1.4" fill="#efdbd7"/>
<circle cx="21" cy="9.8" r="1.2" fill="#efe0dd"/><circle cx="28" cy="10.5" r="1.1" fill="#efe0dd"/>
<ellipse cx="27" cy="42.6" rx="3.2" ry="1.2" fill="#eee6e4"/>
</g></g>
<rect x="171.20" y="437.20" width="2.30" height="49.00" fill="url(#ucb)"/>
<text x="177.50" y="488.32" font-size="7.0" text-anchor="start" fill="#222" font-weight="normal" stroke="#222" textLength="8.8" lengthAdjust="spacingAndGlyphs">0.0</text>
<text x="177.50" y="479.40" font-size="7.0" text-anchor="start" fill="#222" font-weight="normal" stroke="#222" textLength="8.8" lengthAdjust="spacingAndGlyphs">0.5</text>
<text x="177.50" y="470.48" font-size="7.0" text-anchor="start" fill="#222" font-weight="normal" stroke="#222" textLength="8.8" lengthAdjust="spacingAndGlyphs">1.0</text>
<text x="177.50" y="461.56" font-size="7.0" text-anchor="start" fill="#222" font-weight="normal" stroke="#222" textLength="8.8" lengthAdjust="spacingAndGlyphs">1.5</text>
<text x="177.50" y="452.64" font-size="7.0" text-anchor="start" fill="#222" font-weight="normal" stroke="#222" textLength="8.8" lengthAdjust="spacingAndGlyphs">2.0</text>
<text x="177.50" y="443.72" font-size="7.0" text-anchor="start" fill="#222" font-weight="normal" stroke="#222" textLength="8.8" lengthAdjust="spacingAndGlyphs">2.5</text>
<text x="201.60" y="461.70" font-size="8.2" text-anchor="middle" fill="#1e1e1e" textLength="22" lengthAdjust="spacingAndGlyphs" transform="rotate(-90 201.60 461.70)" stroke="#1e1e1e">UMAP2</text>
<text x="234.40" y="496.52" font-size="8.4" text-anchor="middle" fill="#1e1e1e" font-weight="normal" stroke="#1e1e1e" textLength="21.5" lengthAdjust="spacingAndGlyphs">UMAP1</text>
<rect x="207.50" y="437.20" width="50.40" height="49.00" fill="#fff" stroke="#b8b8b8" stroke-width="0.8"/>
<defs><radialGradient id="g22" cx="46" cy="19" r="24" gradientUnits="userSpaceOnUse"><stop offset="0" stop-color="#e6826e"/><stop offset="0.45" stop-color="#ebb8ae"/><stop offset="1" stop-color="#eed5d0"/></radialGradient></defs>
<defs><radialGradient id="dg22" cx="44" cy="20" r="26" gradientUnits="userSpaceOnUse"><stop offset="0" stop-color="#d66256"/><stop offset="0.5" stop-color="#e3a69f"/><stop offset="1" stop-color="#eac9c5"/></radialGradient></defs>
<g transform="translate(207.50 437.20) scale(1.008 1)"><g filter="url(#ublur)">
<use href="#uarm" fill="#eed8d4"/>
<use href="#ulobe" fill="#edcdc7"/>
<use href="#urlobe" fill="url(#g22)" fill-opacity="0.85"/>
<use href="#usp" fill="url(#g22)"/>
<use href="#udsp" fill="url(#dg22)"/>
<use href="#uwsp"/>
<ellipse cx="35.6" cy="35.4" rx="1.2" ry="1.4" fill="#eed8d4"/>
<circle cx="21" cy="9.8" r="1.2" fill="#efdfdb"/><circle cx="28" cy="10.5" r="1.1" fill="#efdfdb"/>
<ellipse cx="27" cy="42.6" rx="3.2" ry="1.2" fill="#eee6e4"/>
</g></g>
<rect x="259.00" y="437.20" width="2.30" height="49.00" fill="url(#ucb)"/>
<text x="265.30" y="488.32" font-size="7.0" text-anchor="start" fill="#222" font-weight="normal" stroke="#222" textLength="8.8" lengthAdjust="spacingAndGlyphs">0.0</text>
<text x="265.30" y="477.75" font-size="7.0" text-anchor="start" fill="#222" font-weight="normal" stroke="#222" textLength="8.8" lengthAdjust="spacingAndGlyphs">0.5</text>
<text x="265.30" y="467.17" font-size="7.0" text-anchor="start" fill="#222" font-weight="normal" stroke="#222" textLength="8.8" lengthAdjust="spacingAndGlyphs">1.0</text>
<text x="265.30" y="456.59" font-size="7.0" text-anchor="start" fill="#222" font-weight="normal" stroke="#222" textLength="8.8" lengthAdjust="spacingAndGlyphs">1.5</text>
<text x="265.30" y="446.02" font-size="7.0" text-anchor="start" fill="#222" font-weight="normal" stroke="#222" textLength="8.8" lengthAdjust="spacingAndGlyphs">2.0</text>
<text x="289.60" y="461.70" font-size="8.2" text-anchor="middle" fill="#1e1e1e" textLength="22" lengthAdjust="spacingAndGlyphs" transform="rotate(-90 289.60 461.70)" stroke="#1e1e1e">UMAP2</text>
<text x="322.40" y="496.52" font-size="8.4" text-anchor="middle" fill="#1e1e1e" font-weight="normal" stroke="#1e1e1e" textLength="21.5" lengthAdjust="spacingAndGlyphs">UMAP1</text>
<rect x="295.50" y="437.20" width="50.40" height="49.00" fill="#fff" stroke="#b8b8b8" stroke-width="0.8"/>
<defs><radialGradient id="g23" cx="46" cy="19" r="24" gradientUnits="userSpaceOnUse"><stop offset="0" stop-color="#e38d7d"/><stop offset="0.45" stop-color="#e4c3bd"/><stop offset="1" stop-color="#e4dad8"/></radialGradient></defs>
<defs><radialGradient id="dg23" cx="44" cy="20" r="26" gradientUnits="userSpaceOnUse"><stop offset="0" stop-color="#d57268"/><stop offset="0.5" stop-color="#deb7b3"/><stop offset="1" stop-color="#e3d5d4"/></radialGradient></defs>
<g transform="translate(295.50 437.20) scale(1.008 1)"><g filter="url(#ublur)">
<use href="#uarm" fill="#e4dbda"/>
<use href="#ulobe" fill="#e4d7d5"/>
<use href="#urlobe" fill="url(#g23)" fill-opacity="0.85"/>
<use href="#usp" fill="url(#g23)"/>
<use href="#udsp" fill="url(#dg23)"/>
<use href="#uwsp"/>
<ellipse cx="35.6" cy="35.4" rx="1.2" ry="1.4" fill="#e4dbda"/>
<circle cx="21" cy="9.8" r="1.2" fill="#e4dddc"/><circle cx="28" cy="10.5" r="1.1" fill="#e4dddc"/>
<ellipse cx="27" cy="42.6" rx="3.2" ry="1.2" fill="#eee6e4"/>
</g></g>
<rect x="347.00" y="437.20" width="2.30" height="49.00" fill="url(#ucb)"/>
<text x="353.30" y="488.32" font-size="7.0" text-anchor="start" fill="#222" font-weight="normal" stroke="#222" textLength="8.8" lengthAdjust="spacingAndGlyphs">0.0</text>
<text x="353.30" y="478.94" font-size="7.0" text-anchor="start" fill="#222" font-weight="normal" stroke="#222" textLength="8.8" lengthAdjust="spacingAndGlyphs">0.5</text>
<text x="353.30" y="469.56" font-size="7.0" text-anchor="start" fill="#222" font-weight="normal" stroke="#222" textLength="8.8" lengthAdjust="spacingAndGlyphs">1.0</text>
<text x="353.30" y="460.18" font-size="7.0" text-anchor="start" fill="#222" font-weight="normal" stroke="#222" textLength="8.8" lengthAdjust="spacingAndGlyphs">1.5</text>
<text x="353.30" y="450.80" font-size="7.0" text-anchor="start" fill="#222" font-weight="normal" stroke="#222" textLength="8.8" lengthAdjust="spacingAndGlyphs">2.0</text>
<text x="353.30" y="441.42" font-size="7.0" text-anchor="start" fill="#222" font-weight="normal" stroke="#222" textLength="8.8" lengthAdjust="spacingAndGlyphs">2.5</text>
<text x="377.70" y="336.80" font-size="10.2" text-anchor="start" fill="#111" font-weight="bold" textLength="7.0" lengthAdjust="spacingAndGlyphs">E</text>
<text x="462.30" y="334.38" font-size="8.0" text-anchor="middle" fill="#2b2b2b" font-weight="normal" stroke="#2b2b2b" textLength="19.4" lengthAdjust="spacingAndGlyphs">HIF-1</text>
<text x="448.0" y="345.88" font-size="8.0" fill="#2b2b2b" textLength="65.2" lengthAdjust="spacingAndGlyphs" stroke="#2b2b2b"><tspan font-style="italic">P</tspan>(adj) = 7.15E-05</text>
<line x1="411.50" y1="342.40" x2="411.50" y2="445.90" stroke="#1a1a1a" stroke-width="1.0"/>
<line x1="411.00" y1="445.50" x2="512.00" y2="445.50" stroke="#1a1a1a" stroke-width="1.0"/>
<line x1="407.80" y1="352.80" x2="411.50" y2="352.80" stroke="#1a1a1a" stroke-width="0.9"/>
<text x="405.80" y="355.25" font-size="6.8" text-anchor="end" fill="#2b2b2b" font-weight="normal" stroke="#2b2b2b" textLength="11.8" lengthAdjust="spacingAndGlyphs">0.20</text>
<line x1="407.80" y1="374.80" x2="411.50" y2="374.80" stroke="#1a1a1a" stroke-width="0.9"/>
<text x="405.80" y="377.25" font-size="6.8" text-anchor="end" fill="#2b2b2b" font-weight="normal" stroke="#2b2b2b" textLength="11.8" lengthAdjust="spacingAndGlyphs">0.15</text>
<line x1="407.80" y1="396.80" x2="411.50" y2="396.80" stroke="#1a1a1a" stroke-width="0.9"/>
<text x="405.80" y="399.25" font-size="6.8" text-anchor="end" fill="#2b2b2b" font-weight="normal" stroke="#2b2b2b" textLength="11.8" lengthAdjust="spacingAndGlyphs">0.10</text>
<line x1="407.80" y1="418.80" x2="411.50" y2="418.80" stroke="#1a1a1a" stroke-width="0.9"/>
<text x="405.80" y="421.25" font-size="6.8" text-anchor="end" fill="#2b2b2b" font-weight="normal" stroke="#2b2b2b" textLength="11.8" lengthAdjust="spacingAndGlyphs">0.05</text>
<line x1="407.80" y1="440.80" x2="411.50" y2="440.80" stroke="#1a1a1a" stroke-width="0.9"/>
<text x="405.80" y="443.25" font-size="6.8" text-anchor="end" fill="#2b2b2b" font-weight="normal" stroke="#2b2b2b" textLength="11.8" lengthAdjust="spacingAndGlyphs">0.00</text>
<text x="387.3" y="395.88" font-size="6.6" text-anchor="middle" fill="#2b2b2b" textLength="28.5" lengthAdjust="spacingAndGlyphs" transform="rotate(-90 387.3 393.5)" stroke="#2b2b2b">TF activity</text>
<line x1="430.40" y1="445.50" x2="430.40" y2="448.20" stroke="#1a1a1a" stroke-width="0.9"/>
<text x="430.40" y="457.08" font-size="6.6" text-anchor="middle" fill="#2b2b2b" font-weight="normal" stroke="#2b2b2b" textLength="8.5" lengthAdjust="spacingAndGlyphs">Veh</text>
<line x1="462.30" y1="445.50" x2="462.30" y2="448.20" stroke="#1a1a1a" stroke-width="0.9"/>
<text x="462.30" y="457.08" font-size="6.6" text-anchor="middle" fill="#2b2b2b" font-weight="normal" stroke="#2b2b2b" textLength="14.6" lengthAdjust="spacingAndGlyphs">Nil 2d</text>
<line x1="493.70" y1="445.50" x2="493.70" y2="448.20" stroke="#1a1a1a" stroke-width="0.9"/>
<text x="493.70" y="457.08" font-size="6.6" text-anchor="middle" fill="#2b2b2b" font-weight="normal" stroke="#2b2b2b" textLength="15.7" lengthAdjust="spacingAndGlyphs">Nil 2w</text>
<line x1="430.40" y1="346.40" x2="430.40" y2="440.50" stroke="#1a1a1a" stroke-width="0.5"/>
<line x1="462.30" y1="368.60" x2="462.30" y2="440.50" stroke="#1a1a1a" stroke-width="0.5"/>
<line x1="493.70" y1="346.60" x2="493.70" y2="440.50" stroke="#1a1a1a" stroke-width="0.5"/>
<path d="M430.50,399.00 L430.70,402.00 L430.80,410.00 L430.85,425.00 L430.90,436.00 L432.40,438.60 L435.40,439.40 L440.40,440.10 L443.90,440.60 L445.00,441.00 L444.40,441.30 L430.90,441.50 L429.90,441.50 L416.40,441.30 L415.80,441.00 L416.90,440.60 L420.40,440.10 L425.40,439.40 L428.40,438.60 L429.90,436.00 L429.95,425.00 L430.00,410.00 L430.10,402.00 L430.30,399.00 Z" fill="#a8a8a8" stroke="#111" stroke-width="0.35" stroke-linejoin="round"/>
<path d="M462.40,402.00 L462.50,410.00 L462.60,425.00 L462.65,434.00 L463.80,438.70 L467.30,439.50 L472.30,440.20 L475.80,440.70 L476.70,441.00 L476.10,441.30 L462.80,441.50 L461.80,441.50 L448.50,441.30 L447.90,441.00 L448.80,440.70 L452.30,440.20 L457.30,439.50 L460.80,438.70 L461.95,434.00 L462.00,425.00 L462.10,410.00 L462.20,402.00 Z" fill="#c0a860" stroke="#111" stroke-width="0.35" stroke-linejoin="round"/>
<path d="M493.80,396.00 L494.05,399.00 L494.40,403.00 L494.65,408.00 L494.75,414.00 L494.75,422.00 L495.00,430.00 L495.70,434.00 L497.30,436.30 L500.20,438.20 L504.20,439.60 L507.70,440.60 L508.00,441.20 L494.20,441.60 L493.20,441.60 L479.40,441.20 L479.70,440.60 L483.20,439.60 L487.20,438.20 L490.10,436.30 L491.70,434.00 L492.40,430.00 L492.65,422.00 L492.65,414.00 L492.75,408.00 L493.00,403.00 L493.35,399.00 L493.60,396.00 Z" fill="#a8102c" stroke="#111" stroke-width="0.4" stroke-linejoin="round"/>
<line x1="430.40" y1="399.00" x2="430.40" y2="438.50" stroke="#111" stroke-width="0.8"/>
<line x1="462.30" y1="402.00" x2="462.30" y2="438.50" stroke="#222" stroke-width="0.5"/>
<text x="46.40" y="518.80" font-size="10.2" text-anchor="start" fill="#111" font-weight="bold" textLength="6.2" lengthAdjust="spacingAndGlyphs">F</text>
<text x="119.40" y="513.82" font-size="7.0" text-anchor="middle" fill="#2b2b2b" font-weight="normal" stroke="#2b2b2b" textLength="23.0" lengthAdjust="spacingAndGlyphs">Normal</text>
<text x="206.70" y="514.62" font-size="7.0" text-anchor="middle" fill="#2b2b2b" font-weight="normal" stroke="#2b2b2b" textLength="41.7" lengthAdjust="spacingAndGlyphs">CML (Vehicle)</text>
<text x="294.10" y="514.32" font-size="7.0" text-anchor="middle" fill="#2b2b2b" font-weight="normal" stroke="#2b2b2b" textLength="30.2" lengthAdjust="spacingAndGlyphs">CML (TKI)</text>
<text x="59.5" y="544.0" font-size="7.0" text-anchor="middle" fill="#2b2b2b" textLength="30.5" lengthAdjust="spacingAndGlyphs" transform="rotate(-90 59.5 544.0)" dy="2.55" stroke="#2b2b2b">Normoxia</text>
<text x="59.4" y="626.3" font-size="7.0" text-anchor="middle" fill="#2b2b2b" textLength="25" lengthAdjust="spacingAndGlyphs" transform="rotate(-90 59.4 626.3)" dy="2.55" stroke="#2b2b2b">Hypoxia</text>
<rect x="95.50" y="518.90" width="48.90" height="48.60" fill="#fff" stroke="#8a8a8a" stroke-width="0.7"/>
<path d="M118.30 567.50 V521.60 H143.80 V567.50" fill="none" stroke="#777" stroke-width="0.6"/>
<text x="131.20" y="526.06" font-size="4.6" text-anchor="middle" fill="#222" font-weight="normal" stroke="#222">10.7%</text>
<text x="107.30" y="535.79" font-size="3.3" text-anchor="middle" fill="#444" font-weight="normal" textLength="19.5" lengthAdjust="spacingAndGlyphs">hif, flt3 subset</text>
<text x="107.30" y="539.19" font-size="3.3" text-anchor="middle" fill="#444" font-weight="normal">10.7</text>
<text x="73.70" y="544.00" font-size="6.0" text-anchor="middle" fill="#2a2a2a" textLength="67" lengthAdjust="spacingAndGlyphs" transform="rotate(-90 73.70 544.00)" dy="2" stroke="#2a2a2a">Comp-PE-Texas Red-A :: flt3</text>
<line x1="93.90" y1="523.60" x2="95.50" y2="523.60" stroke="#555" stroke-width="0.6"/>
<text x="92.90" y="525.54" font-size="5.4" text-anchor="end" fill="#2e2e2e" stroke="#2e2e2e">10<tspan dy="-2.2" font-size="3.35">5</tspan></text>
<line x1="93.90" y1="535.30" x2="95.50" y2="535.30" stroke="#555" stroke-width="0.6"/>
<text x="92.90" y="537.24" font-size="5.4" text-anchor="end" fill="#2e2e2e" stroke="#2e2e2e">10<tspan dy="-2.2" font-size="3.35">4</tspan></text>
<line x1="93.90" y1="549.00" x2="95.50" y2="549.00" stroke="#555" stroke-width="0.6"/>
<text x="92.90" y="550.94" font-size="5.4" text-anchor="end" fill="#2e2e2e" stroke="#2e2e2e">10<tspan dy="-2.2" font-size="3.35">3</tspan></text>
<line x1="93.90" y1="556.50" x2="95.50" y2="556.50" stroke="#555" stroke-width="0.6"/>
<text x="92.50" y="558.44" font-size="5.4" text-anchor="end" fill="#2e2e2e" font-weight="normal" stroke="#2e2e2e">0</text>
<line x1="93.90" y1="565.30" x2="95.50" y2="565.30" stroke="#555" stroke-width="0.6"/>
<text x="92.90" y="567.24" font-size="5.4" text-anchor="end" fill="#2e2e2e" stroke="#2e2e2e">–10<tspan dy="-2.2" font-size="3.35">3</tspan></text>
<line x1="97.00" y1="567.50" x2="97.00" y2="569.00" stroke="#555" stroke-width="0.6"/>
<text x="97.00" y="577.24" font-size="5.4" text-anchor="middle" fill="#2e2e2e" stroke="#2e2e2e">–10<tspan dy="-2.2" font-size="3.35">3</tspan></text>
<line x1="109.60" y1="567.50" x2="109.60" y2="569.00" stroke="#555" stroke-width="0.6"/>
<text x="109.60" y="577.24" font-size="5.4" text-anchor="middle" fill="#2e2e2e" font-weight="normal" stroke="#2e2e2e">0</text>
<line x1="122.30" y1="567.50" x2="122.30" y2="569.00" stroke="#555" stroke-width="0.6"/>
<text x="122.30" y="577.24" font-size="5.4" text-anchor="middle" fill="#2e2e2e" stroke="#2e2e2e">10<tspan dy="-2.2" font-size="3.35">3</tspan></text>
<line x1="132.30" y1="567.50" x2="132.30" y2="569.00" stroke="#555" stroke-width="0.6"/>
<text x="132.30" y="577.24" font-size="5.4" text-anchor="middle" fill="#2e2e2e" stroke="#2e2e2e">10<tspan dy="-2.2" font-size="3.35">4</tspan></text>
<line x1="140.60" y1="567.50" x2="140.60" y2="569.00" stroke="#555" stroke-width="0.6"/>
<text x="140.60" y="577.24" font-size="5.4" text-anchor="middle" fill="#2e2e2e" stroke="#2e2e2e">10<tspan dy="-2.2" font-size="3.35">5</tspan></text>
<text x="119.60" y="586.73" font-size="6.2" text-anchor="middle" fill="#2a2a2a" font-weight="normal" stroke="#2a2a2a" textLength="42.4" lengthAdjust="spacingAndGlyphs">Comp-APC-A :: hif</text>
<rect x="182.50" y="519.40" width="49.30" height="48.60" fill="#fff" stroke="#8a8a8a" stroke-width="0.7"/>
<path d="M204.60 568.00 V520.60 H231.20 V568.00" fill="none" stroke="#777" stroke-width="0.6"/>
<text x="218.00" y="526.16" font-size="4.6" text-anchor="middle" fill="#222" font-weight="normal" stroke="#222">5.2%</text>
<text x="194.60" y="537.09" font-size="3.3" text-anchor="middle" fill="#444" font-weight="normal" textLength="19.5" lengthAdjust="spacingAndGlyphs">hif, flt3 subset</text>
<text x="194.60" y="540.49" font-size="3.3" text-anchor="middle" fill="#444" font-weight="normal">5.16</text>
<text x="163.10" y="543.70" font-size="6.0" text-anchor="middle" fill="#2a2a2a" textLength="57" lengthAdjust="spacingAndGlyphs" transform="rotate(-90 163.10 543.70)" dy="2" stroke="#2a2a2a">Comp-PE-CF594-A :: flt3</text>
<line x1="180.90" y1="523.30" x2="182.50" y2="523.30" stroke="#555" stroke-width="0.6"/>
<text x="179.90" y="525.24" font-size="5.4" text-anchor="end" fill="#2e2e2e" stroke="#2e2e2e">10<tspan dy="-2.2" font-size="3.35">5</tspan></text>
<line x1="180.90" y1="535.80" x2="182.50" y2="535.80" stroke="#555" stroke-width="0.6"/>
<text x="179.90" y="537.74" font-size="5.4" text-anchor="end" fill="#2e2e2e" stroke="#2e2e2e">10<tspan dy="-2.2" font-size="3.35">4</tspan></text>
<line x1="180.90" y1="553.20" x2="182.50" y2="553.20" stroke="#555" stroke-width="0.6"/>
<text x="179.50" y="555.14" font-size="5.4" text-anchor="end" fill="#2e2e2e" font-weight="normal" stroke="#2e2e2e">0</text>
<line x1="185.80" y1="568.00" x2="185.80" y2="569.50" stroke="#555" stroke-width="0.6"/>
<text x="185.80" y="577.24" font-size="5.4" text-anchor="middle" fill="#2e2e2e" stroke="#2e2e2e">–10<tspan dy="-2.2" font-size="3.35">4</tspan></text>
<line x1="200.40" y1="568.00" x2="200.40" y2="569.50" stroke="#555" stroke-width="0.6"/>
<text x="200.40" y="577.24" font-size="5.4" text-anchor="middle" fill="#2e2e2e" font-weight="normal" stroke="#2e2e2e">0</text>
<line x1="218.30" y1="568.00" x2="218.30" y2="569.50" stroke="#555" stroke-width="0.6"/>
<text x="218.30" y="577.24" font-size="5.4" text-anchor="middle" fill="#2e2e2e" stroke="#2e2e2e">10<tspan dy="-2.2" font-size="3.35">4</tspan></text>
<line x1="227.90" y1="568.00" x2="227.90" y2="569.50" stroke="#555" stroke-width="0.6"/>
<text x="227.90" y="577.24" font-size="5.4" text-anchor="middle" fill="#2e2e2e" stroke="#2e2e2e">10<tspan dy="-2.2" font-size="3.35">5</tspan></text>
<text x="207.60" y="585.73" font-size="6.2" text-anchor="middle" fill="#2a2a2a" font-weight="normal" stroke="#2a2a2a" textLength="42.4" lengthAdjust="spacingAndGlyphs">Comp-APC-A :: hif</text>
<rect x="270.50" y="519.10" width="49.00" height="48.80" fill="#fff" stroke="#8a8a8a" stroke-width="0.7"/>
<path d="M292.40 567.90 V520.60 H318.90 V567.90" fill="none" stroke="#777" stroke-width="0.6"/>
<text x="307.00" y="526.16" font-size="4.6" text-anchor="middle" fill="#222" font-weight="normal" stroke="#222">39.2%</text>
<text x="281.50" y="537.69" font-size="3.3" text-anchor="middle" fill="#444" font-weight="normal" textLength="19.5" lengthAdjust="spacingAndGlyphs">hif, flt3 subset</text>
<text x="281.50" y="541.09" font-size="3.3" text-anchor="middle" fill="#444" font-weight="normal">24.2</text>
<text x="250.40" y="543.50" font-size="6.0" text-anchor="middle" fill="#2a2a2a" textLength="57" lengthAdjust="spacingAndGlyphs" transform="rotate(-90 250.40 543.50)" dy="2" stroke="#2a2a2a">Comp-PE-CF594-A :: flt3</text>
<line x1="268.90" y1="523.30" x2="270.50" y2="523.30" stroke="#555" stroke-width="0.6"/>
<text x="267.90" y="525.24" font-size="5.4" text-anchor="end" fill="#2e2e2e" stroke="#2e2e2e">10<tspan dy="-2.2" font-size="3.35">5</tspan></text>
<line x1="268.90" y1="535.80" x2="270.50" y2="535.80" stroke="#555" stroke-width="0.6"/>
<text x="267.90" y="537.74" font-size="5.4" text-anchor="end" fill="#2e2e2e" stroke="#2e2e2e">10<tspan dy="-2.2" font-size="3.35">4</tspan></text>
<line x1="268.90" y1="554.50" x2="270.50" y2="554.50" stroke="#555" stroke-width="0.6"/>
<text x="267.50" y="556.44" font-size="5.4" text-anchor="end" fill="#2e2e2e" font-weight="normal" stroke="#2e2e2e">0</text>
<line x1="272.00" y1="567.90" x2="272.00" y2="569.40" stroke="#555" stroke-width="0.6"/>
<text x="272.00" y="577.24" font-size="5.4" text-anchor="middle" fill="#2e2e2e" stroke="#2e2e2e">–10<tspan dy="-2.2" font-size="3.35">4</tspan></text>
<line x1="288.20" y1="567.90" x2="288.20" y2="569.40" stroke="#555" stroke-width="0.6"/>
<text x="288.20" y="577.24" font-size="5.4" text-anchor="middle" fill="#2e2e2e" font-weight="normal" stroke="#2e2e2e">0</text>
<line x1="307.30" y1="567.90" x2="307.30" y2="569.40" stroke="#555" stroke-width="0.6"/>
<text x="307.30" y="577.24" font-size="5.4" text-anchor="middle" fill="#2e2e2e" stroke="#2e2e2e">10<tspan dy="-2.2" font-size="3.35">4</tspan></text>
<line x1="317.20" y1="567.90" x2="317.20" y2="569.40" stroke="#555" stroke-width="0.6"/>
<text x="317.20" y="577.24" font-size="5.4" text-anchor="middle" fill="#2e2e2e" stroke="#2e2e2e">10<tspan dy="-2.2" font-size="3.35">5</tspan></text>
<text x="295.80" y="586.03" font-size="6.2" text-anchor="middle" fill="#2a2a2a" font-weight="normal" stroke="#2a2a2a" textLength="42.4" lengthAdjust="spacingAndGlyphs">Comp-APC-A :: hif</text>
<rect x="95.20" y="601.40" width="48.30" height="48.10" fill="#fff" stroke="#8a8a8a" stroke-width="0.7"/>
<path d="M120.00 649.50 V606.30 H142.90 V649.50" fill="none" stroke="#777" stroke-width="0.6"/>
<text x="131.00" y="611.06" font-size="4.6" text-anchor="middle" fill="#222" font-weight="normal" stroke="#222">45.8%</text>
<text x="131.00" y="621.99" font-size="3.3" text-anchor="middle" fill="#444" font-weight="normal" textLength="19.5" lengthAdjust="spacingAndGlyphs">hif, flt3 subset</text>
<text x="131.00" y="625.39" font-size="3.3" text-anchor="middle" fill="#444" font-weight="normal">45.8</text>
<text x="73.40" y="626.90" font-size="6.0" text-anchor="middle" fill="#2a2a2a" textLength="57" lengthAdjust="spacingAndGlyphs" transform="rotate(-90 73.40 626.90)" dy="2" stroke="#2a2a2a">Comp-PE-CF594-A :: flt3</text>
<line x1="93.60" y1="605.00" x2="95.20" y2="605.00" stroke="#555" stroke-width="0.6"/>
<text x="92.60" y="606.94" font-size="5.4" text-anchor="end" fill="#2e2e2e" stroke="#2e2e2e">10<tspan dy="-2.2" font-size="3.35">5</tspan></text>
<line x1="93.60" y1="616.60" x2="95.20" y2="616.60" stroke="#555" stroke-width="0.6"/>
<text x="92.60" y="618.54" font-size="5.4" text-anchor="end" fill="#2e2e2e" stroke="#2e2e2e">10<tspan dy="-2.2" font-size="3.35">4</tspan></text>
<line x1="93.60" y1="629.70" x2="95.20" y2="629.70" stroke="#555" stroke-width="0.6"/>
<text x="92.60" y="631.64" font-size="5.4" text-anchor="end" fill="#2e2e2e" stroke="#2e2e2e">10<tspan dy="-2.2" font-size="3.35">3</tspan></text>
<line x1="93.60" y1="638.00" x2="95.20" y2="638.00" stroke="#555" stroke-width="0.6"/>
<text x="92.20" y="639.94" font-size="5.4" text-anchor="end" fill="#2e2e2e" font-weight="normal" stroke="#2e2e2e">0</text>
<line x1="93.60" y1="646.60" x2="95.20" y2="646.60" stroke="#555" stroke-width="0.6"/>
<text x="92.60" y="648.54" font-size="5.4" text-anchor="end" fill="#2e2e2e" stroke="#2e2e2e">–10<tspan dy="-2.2" font-size="3.35">3</tspan></text>
<line x1="95.80" y1="649.50" x2="95.80" y2="651.00" stroke="#555" stroke-width="0.6"/>
<text x="95.80" y="659.14" font-size="5.4" text-anchor="middle" fill="#2e2e2e" stroke="#2e2e2e">–10<tspan dy="-2.2" font-size="3.35">4</tspan></text>
<line x1="112.70" y1="649.50" x2="112.70" y2="651.00" stroke="#555" stroke-width="0.6"/>
<text x="112.70" y="659.14" font-size="5.4" text-anchor="middle" fill="#2e2e2e" font-weight="normal" stroke="#2e2e2e">0</text>
<line x1="130.50" y1="649.50" x2="130.50" y2="651.00" stroke="#555" stroke-width="0.6"/>
<text x="130.50" y="659.14" font-size="5.4" text-anchor="middle" fill="#2e2e2e" stroke="#2e2e2e">10<tspan dy="-2.2" font-size="3.35">4</tspan></text>
<line x1="139.60" y1="649.50" x2="139.60" y2="651.00" stroke="#555" stroke-width="0.6"/>
<text x="139.60" y="659.14" font-size="5.4" text-anchor="middle" fill="#2e2e2e" stroke="#2e2e2e">10<tspan dy="-2.2" font-size="3.35">5</tspan></text>
<text x="119.70" y="668.93" font-size="6.2" text-anchor="middle" fill="#2a2a2a" font-weight="normal" stroke="#2a2a2a" textLength="42.4" lengthAdjust="spacingAndGlyphs">Comp-APC-A :: hif</text>
<rect x="182.40" y="600.70" width="49.20" height="49.20" fill="#fff" stroke="#8a8a8a" stroke-width="0.7"/>
<path d="M207.30 649.90 V603.30 H231.00 V649.90" fill="none" stroke="#777" stroke-width="0.6"/>
<text x="218.40" y="610.06" font-size="4.6" text-anchor="middle" fill="#222" font-weight="normal" stroke="#222">17.9%</text>
<text x="220.00" y="625.09" font-size="3.3" text-anchor="middle" fill="#444" font-weight="normal" textLength="19.5" lengthAdjust="spacingAndGlyphs">hif, flt3 subset</text>
<text x="220.00" y="628.49" font-size="3.3" text-anchor="middle" fill="#444" font-weight="normal">17.9</text>
<text x="163.10" y="626.90" font-size="6.0" text-anchor="middle" fill="#2a2a2a" textLength="57" lengthAdjust="spacingAndGlyphs" transform="rotate(-90 163.10 626.90)" dy="2" stroke="#2a2a2a">Comp-PE-CF594-A :: flt3</text>
<line x1="180.80" y1="607.30" x2="182.40" y2="607.30" stroke="#555" stroke-width="0.6"/>
<text x="179.80" y="609.24" font-size="5.4" text-anchor="end" fill="#2e2e2e" stroke="#2e2e2e">10<tspan dy="-2.2" font-size="3.35">5</tspan></text>
<line x1="180.80" y1="622.70" x2="182.40" y2="622.70" stroke="#555" stroke-width="0.6"/>
<text x="179.80" y="624.64" font-size="5.4" text-anchor="end" fill="#2e2e2e" stroke="#2e2e2e">10<tspan dy="-2.2" font-size="3.35">4</tspan></text>
<line x1="180.80" y1="640.40" x2="182.40" y2="640.40" stroke="#555" stroke-width="0.6"/>
<text x="179.40" y="642.34" font-size="5.4" text-anchor="end" fill="#2e2e2e" font-weight="normal" stroke="#2e2e2e">0</text>
<line x1="185.80" y1="649.90" x2="185.80" y2="651.40" stroke="#555" stroke-width="0.6"/>
<text x="185.80" y="659.24" font-size="5.4" text-anchor="middle" fill="#2e2e2e" stroke="#2e2e2e">–10<tspan dy="-2.2" font-size="3.35">4</tspan></text>
<line x1="200.60" y1="649.90" x2="200.60" y2="651.40" stroke="#555" stroke-width="0.6"/>
<text x="200.60" y="659.24" font-size="5.4" text-anchor="middle" fill="#2e2e2e" font-weight="normal" stroke="#2e2e2e">0</text>
<line x1="218.30" y1="649.90" x2="218.30" y2="651.40" stroke="#555" stroke-width="0.6"/>
<text x="218.30" y="659.24" font-size="5.4" text-anchor="middle" fill="#2e2e2e" stroke="#2e2e2e">10<tspan dy="-2.2" font-size="3.35">4</tspan></text>
<line x1="227.90" y1="649.90" x2="227.90" y2="651.40" stroke="#555" stroke-width="0.6"/>
<text x="227.90" y="659.24" font-size="5.4" text-anchor="middle" fill="#2e2e2e" stroke="#2e2e2e">10<tspan dy="-2.2" font-size="3.35">5</tspan></text>
<text x="207.70" y="668.93" font-size="6.2" text-anchor="middle" fill="#2a2a2a" font-weight="normal" stroke="#2a2a2a" textLength="42.4" lengthAdjust="spacingAndGlyphs">Comp-APC-A :: hif</text>
<rect x="270.40" y="600.70" width="49.20" height="49.20" fill="#fff" stroke="#8a8a8a" stroke-width="0.7"/>
<path d="M295.20 649.90 V603.30 H319.00 V649.90" fill="none" stroke="#777" stroke-width="0.6"/>
<text x="306.40" y="610.06" font-size="4.6" text-anchor="middle" fill="#222" font-weight="normal" stroke="#222">33.3%</text>
<text x="307.00" y="625.99" font-size="3.3" text-anchor="middle" fill="#444" font-weight="normal" textLength="19.5" lengthAdjust="spacingAndGlyphs">hif, flt3 subset</text>
<text x="307.00" y="629.39" font-size="3.3" text-anchor="middle" fill="#444" font-weight="normal">33.3</text>
<text x="250.40" y="626.90" font-size="6.0" text-anchor="middle" fill="#2a2a2a" textLength="57" lengthAdjust="spacingAndGlyphs" transform="rotate(-90 250.40 626.90)" dy="2" stroke="#2a2a2a">Comp-PE-CF594-A :: flt3</text>
<line x1="268.80" y1="607.30" x2="270.40" y2="607.30" stroke="#555" stroke-width="0.6"/>
<text x="267.80" y="609.24" font-size="5.4" text-anchor="end" fill="#2e2e2e" stroke="#2e2e2e">10<tspan dy="-2.2" font-size="3.35">5</tspan></text>
<line x1="268.80" y1="622.70" x2="270.40" y2="622.70" stroke="#555" stroke-width="0.6"/>
<text x="267.80" y="624.64" font-size="5.4" text-anchor="end" fill="#2e2e2e" stroke="#2e2e2e">10<tspan dy="-2.2" font-size="3.35">4</tspan></text>
<line x1="268.80" y1="640.40" x2="270.40" y2="640.40" stroke="#555" stroke-width="0.6"/>
<text x="267.40" y="642.34" font-size="5.4" text-anchor="end" fill="#2e2e2e" font-weight="normal" stroke="#2e2e2e">0</text>
<line x1="272.00" y1="649.90" x2="272.00" y2="651.40" stroke="#555" stroke-width="0.6"/>
<text x="272.00" y="659.24" font-size="5.4" text-anchor="middle" fill="#2e2e2e" stroke="#2e2e2e">–10<tspan dy="-2.2" font-size="3.35">4</tspan></text>
<line x1="288.20" y1="649.90" x2="288.20" y2="651.40" stroke="#555" stroke-width="0.6"/>
<text x="288.20" y="659.24" font-size="5.4" text-anchor="middle" fill="#2e2e2e" font-weight="normal" stroke="#2e2e2e">0</text>
<line x1="307.30" y1="649.90" x2="307.30" y2="651.40" stroke="#555" stroke-width="0.6"/>
<text x="307.30" y="659.24" font-size="5.4" text-anchor="middle" fill="#2e2e2e" stroke="#2e2e2e">10<tspan dy="-2.2" font-size="3.35">4</tspan></text>
<line x1="317.20" y1="649.90" x2="317.20" y2="651.40" stroke="#555" stroke-width="0.6"/>
<text x="317.20" y="659.24" font-size="5.4" text-anchor="middle" fill="#2e2e2e" stroke="#2e2e2e">10<tspan dy="-2.2" font-size="3.35">5</tspan></text>
<text x="294.80" y="668.93" font-size="6.2" text-anchor="middle" fill="#2a2a2a" font-weight="normal" stroke="#2a2a2a" textLength="42.4" lengthAdjust="spacingAndGlyphs">Comp-APC-A :: hif</text>
<defs><filter id="fb" x="-20%" y="-40%" width="140%" height="180%"><feGaussianBlur stdDeviation="0.55"/></filter></defs>
<g filter="url(#fb)">
<ellipse cx="102.5" cy="559.6" rx="6.8" ry="3.4" fill="#d6d6d6" transform="rotate(-28 102.5 559.6)"/>
<ellipse cx="113" cy="555.8" rx="10.5" ry="6.2" fill="#c4c4c4"/>
<ellipse cx="113.2" cy="556.0" rx="7.2" ry="4.1" fill="#9c9c9c"/>
<ellipse cx="113.4" cy="556.3" rx="5.2" ry="2.6" fill="#b4b4b4"/>
<ellipse cx="113.5" cy="556.4" rx="3.0" ry="1.2" fill="#ececec"/>
<ellipse cx="197.7" cy="553.7" rx="6.6" ry="3.9" fill="#9a9a9a"/>
<ellipse cx="197.7" cy="553.7" rx="5.0" ry="2.9" fill="#555"/>
<ellipse cx="197.8" cy="553.7" rx="3.2" ry="1.8" fill="#7a7a7a"/>
<ellipse cx="197.9" cy="553.7" rx="1.5" ry="0.8" fill="#eee"/>
<defs><linearGradient id="p3g" x1="0" y1="0" x2="1" y2="0"><stop offset="0" stop-color="#7a7a7a"/><stop offset="0.55" stop-color="#8a8a8a"/><stop offset="1" stop-color="#c4c4c4"/></linearGradient></defs>
<rect x="276.2" y="550.3" width="31.4" height="8.4" rx="4.2" fill="url(#p3g)"/>
<rect x="278.0" y="551.8" width="27.5" height="5.4" rx="2.7" fill="#5e5e5e" fill-opacity="0.7"/>
<rect x="280" y="553.9" width="22" height="1.0" fill="#d8d8d8"/>
<ellipse cx="114.0" cy="632.3" rx="5.9" ry="5.7" fill="#bdbdbd"/>
<ellipse cx="122.2" cy="633.6" rx="6.8" ry="5.3" fill="#b2b2b2"/>
<ellipse cx="114.0" cy="632.3" rx="3.9" ry="3.7" fill="#7c7c7c"/>
<ellipse cx="122.2" cy="633.6" rx="4.7" ry="3.4" fill="#727272"/>
<ellipse cx="114.4" cy="632.3" rx="2.0" ry="1.7" fill="#dcdcdc"/>
<ellipse cx="122.0" cy="633.8" rx="2.4" ry="1.4" fill="#e6e6e6"/>
<circle cx="107.5" cy="637.6" r="0.7" fill="#aaa"/>
<path d="M194,639.6 C194,636.5 199,636.1 204,636.4 C210,636.6 215.5,637.5 215.8,639.5 C215.8,641.5 210,642.4 204,642.6 C198,642.8 194,642.5 194,639.6 Z" fill="#b4b4b4"/>
<path d="M195.6,639.6 C195.6,637.6 199.5,637.3 204,637.5 C209,637.7 213.5,638.3 213.8,639.6 C213.8,640.9 209,641.4 204,641.6 C199,641.7 195.6,641.5 195.6,639.6 Z" fill="#6a6a6a"/>
<path d="M197.8,639.6 C197.8,638.6 200,638.5 204,638.6 C207.5,638.8 210,639 210,639.6 C210,640.2 207.5,640.4 204,640.5 C200,640.5 197.8,640.4 197.8,639.6 Z" fill="#d4d4d4"/>
<rect x="271.2" y="630.8" width="24.5" height="8.0" rx="4.0" fill="#c4c4c4" stroke="#8a8a8a" stroke-width="0.7"/>
<rect x="273.5" y="632.3" width="19" height="4.6" rx="2.3" fill="#dadada" stroke="#a8a8a8" stroke-width="0.5"/>
<path d="M276.5,638 C276.5,635.2 282,635.2 288,636.2 C294,637.2 300,635.6 305,635.7 C309,635.8 310,638 310,640 C310,642.6 307.5,644.4 302,644.4 C295,644.4 288,644 282.5,643 C278.5,642.2 276.5,640.5 276.5,638 Z" fill="#9a9a9a" stroke="#666" stroke-width="0.7"/>
<rect x="293.5" y="636.6" width="16.2" height="7.0" rx="3.5" fill="#505050"/>
<rect x="297.5" y="639.3" width="9.5" height="1.5" rx="0.75" fill="#dedede"/>
<path d="M280,639.6 C286,641.2 292,641.3 297,640.6" fill="none" stroke="#d0d0d0" stroke-width="0.9"/>
<ellipse cx="283.5" cy="635.6" rx="2.4" ry="1.6" fill="#efefef"/>
</g>
<line x1="118.30" y1="521.60" x2="118.30" y2="567.50" stroke="#666" stroke-width="0.6"/>
<line x1="204.60" y1="520.60" x2="204.60" y2="568.00" stroke="#666" stroke-width="0.6"/>
<line x1="292.40" y1="520.60" x2="292.40" y2="567.90" stroke="#666" stroke-width="0.6"/>
<line x1="120.00" y1="606.30" x2="120.00" y2="649.50" stroke="#666" stroke-width="0.6"/>
<line x1="207.30" y1="603.30" x2="207.30" y2="649.90" stroke="#666" stroke-width="0.6"/>
<line x1="295.20" y1="603.30" x2="295.20" y2="649.90" stroke="#666" stroke-width="0.6"/>
<rect x="94.20" y="555.40" width="1.2" height="2.4" fill="#222"/>
<rect x="181.30" y="552.40" width="1.2" height="2.4" fill="#222"/>
<rect x="269.40" y="553.30" width="1.2" height="2.4" fill="#222"/>
<rect x="94.00" y="631.20" width="1.2" height="2.4" fill="#222"/>
<rect x="181.40" y="639.20" width="1.2" height="2.4" fill="#222"/>
<rect x="269.40" y="639.00" width="1.2" height="2.4" fill="#222"/>
<line x1="95.40" y1="677.70" x2="236.80" y2="677.70" stroke="#111" stroke-width="1.1"/>
<line x1="264.20" y1="677.70" x2="314.00" y2="677.70" stroke="#111" stroke-width="1.1"/>
<path d="M312.2,675.2 L318.9,677.7 L312.2,680.2 Z" fill="#111"/>
<text x="239.60" y="680.08" font-size="6.6" text-anchor="start" fill="#2b2b2b" font-weight="normal" stroke="#2b2b2b" textLength="21.2" lengthAdjust="spacingAndGlyphs">HIF-1α</text>
<text x="395.00" y="538.32" font-size="8.4" text-anchor="start" fill="#2b2b2b" font-weight="normal" stroke="#2b2b2b" textLength="25.4" lengthAdjust="spacingAndGlyphs">HIF-1α</text>
<line x1="369.20" y1="556.30" x2="369.20" y2="635.40" stroke="#1a1a1a" stroke-width="1.0"/>
<line x1="368.70" y1="634.90" x2="445.60" y2="634.90" stroke="#1a1a1a" stroke-width="1.1"/>
<line x1="366.40" y1="634.90" x2="369.20" y2="634.90" stroke="#1a1a1a" stroke-width="0.9"/>
<text x="364.80" y="637.28" font-size="6.6" text-anchor="end" fill="#2b2b2b" font-weight="normal" stroke="#2b2b2b" textLength="3.6" lengthAdjust="spacingAndGlyphs">0</text>
<line x1="366.40" y1="619.68" x2="369.20" y2="619.68" stroke="#1a1a1a" stroke-width="0.9"/>
<text x="364.80" y="622.06" font-size="6.6" text-anchor="end" fill="#2b2b2b" font-weight="normal" stroke="#2b2b2b" textLength="7.5" lengthAdjust="spacingAndGlyphs">10</text>
<line x1="366.40" y1="604.47" x2="369.20" y2="604.47" stroke="#1a1a1a" stroke-width="0.9"/>
<text x="364.80" y="606.85" font-size="6.6" text-anchor="end" fill="#2b2b2b" font-weight="normal" stroke="#2b2b2b" textLength="7.5" lengthAdjust="spacingAndGlyphs">20</text>
<line x1="366.40" y1="589.25" x2="369.20" y2="589.25" stroke="#1a1a1a" stroke-width="0.9"/>
<text x="364.80" y="591.63" font-size="6.6" text-anchor="end" fill="#2b2b2b" font-weight="normal" stroke="#2b2b2b" textLength="7.5" lengthAdjust="spacingAndGlyphs">30</text>
<line x1="366.40" y1="574.04" x2="369.20" y2="574.04" stroke="#1a1a1a" stroke-width="0.9"/>
<text x="364.80" y="576.42" font-size="6.6" text-anchor="end" fill="#2b2b2b" font-weight="normal" stroke="#2b2b2b" textLength="7.5" lengthAdjust="spacingAndGlyphs">40</text>
<line x1="366.40" y1="558.82" x2="369.20" y2="558.82" stroke="#1a1a1a" stroke-width="0.9"/>
<text x="364.80" y="561.20" font-size="6.6" text-anchor="end" fill="#2b2b2b" font-weight="normal" stroke="#2b2b2b" textLength="7.5" lengthAdjust="spacingAndGlyphs">50</text>
<line x1="387.40" y1="634.90" x2="387.40" y2="637.60" stroke="#1a1a1a" stroke-width="0.9"/>
<line x1="428.30" y1="634.90" x2="428.30" y2="637.60" stroke="#1a1a1a" stroke-width="0.9"/>
<text x="387.50" y="647.02" font-size="7.0" text-anchor="middle" fill="#2b2b2b" font-weight="normal" stroke="#2b2b2b" textLength="27.6" lengthAdjust="spacingAndGlyphs">Normoxia</text>
<text x="428.50" y="647.02" font-size="7.0" text-anchor="middle" fill="#2b2b2b" font-weight="normal" stroke="#2b2b2b" textLength="23.5" lengthAdjust="spacingAndGlyphs">Hypoxia</text>
<text x="349.8" y="594.4" font-size="6.6" text-anchor="middle" fill="#2b2b2b" textLength="61" lengthAdjust="spacingAndGlyphs" transform="rotate(-90 349.8 594.4)" dy="2.4" stroke="#2b2b2b">% HIF-1alpha+ cells</text>
<rect x="375.00" y="632.16" width="9.60" height="2.24" fill="#34507e"/>
<rect x="390.10" y="590.78" width="10.00" height="43.62" fill="#e79484"/>
<rect x="415.80" y="618.16" width="10.00" height="16.24" fill="#7d92c6"/>
<rect x="430.80" y="590.78" width="10.40" height="43.62" fill="#e79484"/>
<line x1="379.90" y1="633.68" x2="379.90" y2="629.73" stroke="#6f9fd0" stroke-width="0.9"/>
<line x1="377.90" y1="629.73" x2="381.90" y2="629.73" stroke="#6f9fd0" stroke-width="0.9"/>
<line x1="377.90" y1="633.68" x2="381.90" y2="633.68" stroke="#6f9fd0" stroke-width="0.9"/>
<line x1="395.20" y1="597.78" x2="395.20" y2="582.56" stroke="#b8102a" stroke-width="0.9"/>
<line x1="392.80" y1="582.56" x2="397.60" y2="582.56" stroke="#b8102a" stroke-width="0.9"/>
<line x1="392.80" y1="597.78" x2="397.60" y2="597.78" stroke="#b8102a" stroke-width="0.9"/>
<line x1="420.70" y1="628.36" x2="420.70" y2="606.60" stroke="#2a6090" stroke-width="0.9"/>
<line x1="418.30" y1="606.60" x2="423.10" y2="606.60" stroke="#2a6090" stroke-width="0.9"/>
<line x1="418.30" y1="628.36" x2="423.10" y2="628.36" stroke="#2a6090" stroke-width="0.9"/>
<line x1="436.00" y1="608.58" x2="436.00" y2="573.13" stroke="#b8102a" stroke-width="0.9"/>
<line x1="433.60" y1="573.13" x2="438.40" y2="573.13" stroke="#b8102a" stroke-width="0.9"/>
<line x1="433.60" y1="608.58" x2="438.40" y2="608.58" stroke="#b8102a" stroke-width="0.9"/>
<circle cx="379.90" cy="627.29" r="1.25" fill="#1b3768"/>
<circle cx="377.60" cy="631.55" r="1.25" fill="#1b3768"/>
<circle cx="382.20" cy="631.55" r="1.25" fill="#1b3768"/>
<circle cx="379.90" cy="633.99" r="1.25" fill="#1b3768"/>
<circle cx="420.70" cy="589.56" r="1.25" fill="#1b3768"/>
<circle cx="417.50" cy="634.60" r="1.25" fill="#1b3768"/>
<circle cx="423.90" cy="634.60" r="1.25" fill="#1b3768"/>
<rect x="390.10" y="576.29" width="2.80" height="2.80" fill="#b8102a"/>
<rect x="397.60" y="573.40" width="2.80" height="2.80" fill="#b8102a"/>
<rect x="390.10" y="602.31" width="2.80" height="2.80" fill="#b8102a"/>
<rect x="397.60" y="602.31" width="2.80" height="2.80" fill="#b8102a"/>
<rect x="434.60" y="561.08" width="2.80" height="2.80" fill="#b8102a"/>
<rect x="434.60" y="583.29" width="2.80" height="2.80" fill="#b8102a"/>
<rect x="434.60" y="623.15" width="2.80" height="2.80" fill="#b8102a"/>
<path d="M379.9 622.2 V553.2 H395.2 V570.4" fill="none" stroke="#333" stroke-width="0.8"/>
<path d="M420.7 585.8 V553.2 H436.2 V557.4" fill="none" stroke="#333" stroke-width="0.8"/>
<circle cx="387.50" cy="549.40" r="0.60" fill="#333"/>
<text x="428.30" y="549.38" font-size="6.6" text-anchor="middle" fill="#2b2b2b" font-weight="normal" stroke="#2b2b2b" textLength="6.2" lengthAdjust="spacingAndGlyphs">ns</text>
<circle cx="450.80" cy="590.60" r="1.25" fill="#1b3768"/>
<rect x="449.40" y="598.20" width="2.70" height="2.70" fill="#b8102a"/>
<text x="455.20" y="592.98" font-size="6.6" text-anchor="start" fill="#2b2b2b" font-weight="normal" stroke="#2b2b2b" textLength="18.3" lengthAdjust="spacingAndGlyphs">Vehicle</text>
<text x="455.20" y="602.38" font-size="6.6" text-anchor="start" fill="#2b2b2b" font-weight="normal" stroke="#2b2b2b" textLength="8.0" lengthAdjust="spacingAndGlyphs">TKI</text>
</svg>
</body></html>
